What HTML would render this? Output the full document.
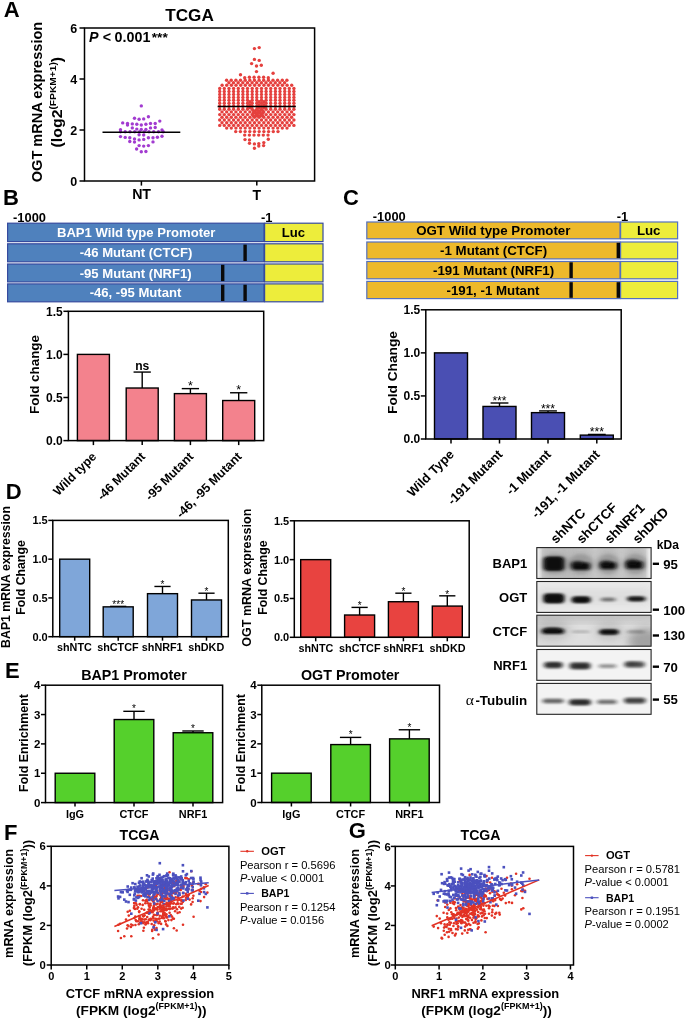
<!DOCTYPE html>
<html><head><meta charset="utf-8"><title>Figure</title>
<style>html,body{margin:0;padding:0;background:#fff}svg{display:block}</style></head>
<body>
<svg width="685" height="1019" viewBox="0 0 685 1019" font-family="Liberation Sans, Arial, sans-serif">
<rect width="685" height="1019" fill="#fff"/>
<defs>
<filter id="b1" x="-30%" y="-60%" width="160%" height="220%"><feGaussianBlur stdDeviation="2.2 1.3"/></filter>
<filter id="b2" x="-30%" y="-60%" width="160%" height="220%"><feGaussianBlur stdDeviation="2.2 1.5"/></filter>
<filter id="b3" x="-30%" y="-30%" width="160%" height="160%"><feGaussianBlur stdDeviation="5"/></filter>
</defs>
<text x="3.70" y="17.20" font-size="22" font-weight="bold" text-anchor="start" fill="#000">A</text>
<text x="3.00" y="205.20" font-size="22" font-weight="bold" text-anchor="start" fill="#000">B</text>
<text x="343.00" y="205.40" font-size="22" font-weight="bold" text-anchor="start" fill="#000">C</text>
<text x="5.70" y="499.40" font-size="22" font-weight="bold" text-anchor="start" fill="#000">D</text>
<text x="5.00" y="677.50" font-size="22" font-weight="bold" text-anchor="start" fill="#000">E</text>
<text x="4.00" y="839.60" font-size="22" font-weight="bold" text-anchor="start" fill="#000">F</text>
<text x="348.80" y="837.80" font-size="22" font-weight="bold" text-anchor="start" fill="#000">G</text>
<text x="189.50" y="20.70" font-size="16" font-weight="bold" text-anchor="middle" fill="#000" textLength="48.5" lengthAdjust="spacingAndGlyphs">TCGA</text>
<g fill="#A23BD0"><circle cx="141.3" cy="105.9" r="1.7"/><circle cx="148.4" cy="116.7" r="1.7"/><circle cx="134.5" cy="118.3" r="1.7"/><circle cx="139.1" cy="119.2" r="1.7"/><circle cx="143.7" cy="118.9" r="1.7"/><circle cx="159.8" cy="121.1" r="1.7"/><circle cx="122.7" cy="122.9" r="1.7"/><circle cx="127.5" cy="123.5" r="1.7"/><circle cx="127.5" cy="125.1" r="1.7"/><circle cx="132.3" cy="123.9" r="1.7"/><circle cx="136.8" cy="124.3" r="1.7"/><circle cx="141.3" cy="125.0" r="1.7"/><circle cx="145.9" cy="124.2" r="1.7"/><circle cx="150.5" cy="123.5" r="1.7"/><circle cx="155.2" cy="123.5" r="1.7"/><circle cx="132.3" cy="127.9" r="1.7"/><circle cx="150.5" cy="127.9" r="1.7"/><circle cx="155.2" cy="127.5" r="1.7"/><circle cx="120.5" cy="129.7" r="1.7"/><circle cx="136.8" cy="129.1" r="1.7"/><circle cx="141.3" cy="129.5" r="1.7"/><circle cx="145.9" cy="129.5" r="1.7"/><circle cx="162.0" cy="130.0" r="1.7"/><circle cx="120.5" cy="136.6" r="1.7"/><circle cx="125.2" cy="137.4" r="1.7"/><circle cx="129.8" cy="137.8" r="1.7"/><circle cx="139.1" cy="134.7" r="1.7"/><circle cx="143.7" cy="135.0" r="1.7"/><circle cx="148.4" cy="137.8" r="1.7"/><circle cx="153.0" cy="137.8" r="1.7"/><circle cx="157.4" cy="137.2" r="1.7"/><circle cx="162.0" cy="136.3" r="1.7"/><circle cx="134.5" cy="139.0" r="1.7"/><circle cx="139.1" cy="139.9" r="1.7"/><circle cx="143.7" cy="139.4" r="1.7"/><circle cx="129.8" cy="141.5" r="1.7"/><circle cx="134.5" cy="142.1" r="1.7"/><circle cx="153.0" cy="141.9" r="1.7"/><circle cx="139.1" cy="145.6" r="1.7"/><circle cx="143.7" cy="146.1" r="1.7"/><circle cx="148.4" cy="145.6" r="1.7"/><circle cx="136.6" cy="149.0" r="1.7"/><circle cx="141.3" cy="151.8" r="1.7"/><circle cx="145.9" cy="151.5" r="1.7"/><circle cx="120.5" cy="131.8" r="1.7"/><circle cx="125.2" cy="131.8" r="1.7"/><circle cx="130.0" cy="131.8" r="1.7"/><circle cx="134.7" cy="131.8" r="1.7"/><circle cx="139.5" cy="131.8" r="1.7"/><circle cx="144.2" cy="131.8" r="1.7"/><circle cx="149.0" cy="131.8" r="1.7"/><circle cx="153.7" cy="131.8" r="1.7"/><circle cx="158.5" cy="131.8" r="1.7"/><circle cx="163.2" cy="131.8" r="1.7"/></g>
<g fill="#E5403E"><circle cx="254.4" cy="48.6" r="1.7"/><circle cx="259.2" cy="47.6" r="1.7"/><circle cx="254.4" cy="59.4" r="1.7"/><circle cx="259.2" cy="60.4" r="1.7"/><circle cx="251.6" cy="63.6" r="1.7"/><circle cx="261.3" cy="65.2" r="1.7"/><circle cx="256.5" cy="66.0" r="1.7"/><circle cx="256.5" cy="71.6" r="1.7"/><circle cx="240.5" cy="74.7" r="1.7"/><circle cx="273.1" cy="73.3" r="1.7"/><circle cx="244.7" cy="77.7" r="1.7"/><circle cx="249.4" cy="77.2" r="1.7"/><circle cx="254.1" cy="77.2" r="1.7"/><circle cx="258.9" cy="77.2" r="1.7"/><circle cx="263.6" cy="77.2" r="1.7"/><circle cx="268.3" cy="77.7" r="1.7"/><circle cx="226.6" cy="80.3" r="1.7"/><circle cx="231.2" cy="80.3" r="1.7"/><circle cx="235.9" cy="80.3" r="1.7"/><circle cx="240.5" cy="80.3" r="1.7"/><circle cx="245.2" cy="80.3" r="1.7"/><circle cx="249.8" cy="80.3" r="1.7"/><circle cx="254.4" cy="80.3" r="1.7"/><circle cx="259.1" cy="80.3" r="1.7"/><circle cx="263.7" cy="80.3" r="1.7"/><circle cx="268.4" cy="80.3" r="1.7"/><circle cx="273.0" cy="80.3" r="1.7"/><circle cx="277.6" cy="80.3" r="1.7"/><circle cx="282.3" cy="80.3" r="1.7"/><circle cx="286.9" cy="80.3" r="1.7"/><circle cx="228.9" cy="82.7" r="1.7"/><circle cx="233.5" cy="82.7" r="1.7"/><circle cx="238.2" cy="82.7" r="1.7"/><circle cx="242.8" cy="82.7" r="1.7"/><circle cx="247.5" cy="82.7" r="1.7"/><circle cx="252.1" cy="82.7" r="1.7"/><circle cx="256.7" cy="82.7" r="1.7"/><circle cx="261.4" cy="82.7" r="1.7"/><circle cx="266.0" cy="82.7" r="1.7"/><circle cx="270.7" cy="82.7" r="1.7"/><circle cx="275.3" cy="82.7" r="1.7"/><circle cx="279.9" cy="82.7" r="1.7"/><circle cx="284.6" cy="82.7" r="1.7"/><circle cx="222.1" cy="85.3" r="1.7"/><circle cx="226.7" cy="85.3" r="1.7"/><circle cx="231.4" cy="85.3" r="1.7"/><circle cx="236.0" cy="85.3" r="1.7"/><circle cx="240.7" cy="85.3" r="1.7"/><circle cx="245.3" cy="85.3" r="1.7"/><circle cx="249.9" cy="85.3" r="1.7"/><circle cx="254.6" cy="85.3" r="1.7"/><circle cx="259.2" cy="85.3" r="1.7"/><circle cx="263.9" cy="85.3" r="1.7"/><circle cx="268.5" cy="85.3" r="1.7"/><circle cx="273.1" cy="85.3" r="1.7"/><circle cx="277.8" cy="85.3" r="1.7"/><circle cx="282.4" cy="85.3" r="1.7"/><circle cx="287.1" cy="85.3" r="1.7"/><circle cx="291.7" cy="85.3" r="1.7"/><circle cx="219.7" cy="88.5" r="1.7"/><circle cx="224.3" cy="88.5" r="1.7"/><circle cx="229.0" cy="88.5" r="1.7"/><circle cx="233.6" cy="88.5" r="1.7"/><circle cx="238.3" cy="88.5" r="1.7"/><circle cx="242.9" cy="88.5" r="1.7"/><circle cx="247.5" cy="88.5" r="1.7"/><circle cx="252.2" cy="88.5" r="1.7"/><circle cx="256.8" cy="88.5" r="1.7"/><circle cx="261.5" cy="88.5" r="1.7"/><circle cx="266.1" cy="88.5" r="1.7"/><circle cx="270.7" cy="88.5" r="1.7"/><circle cx="275.4" cy="88.5" r="1.7"/><circle cx="280.0" cy="88.5" r="1.7"/><circle cx="284.7" cy="88.5" r="1.7"/><circle cx="289.3" cy="88.5" r="1.7"/><circle cx="293.9" cy="88.5" r="1.7"/><circle cx="219.7" cy="91.5" r="1.7"/><circle cx="224.3" cy="91.5" r="1.7"/><circle cx="229.0" cy="91.5" r="1.7"/><circle cx="233.6" cy="91.5" r="1.7"/><circle cx="238.3" cy="91.5" r="1.7"/><circle cx="242.9" cy="91.5" r="1.7"/><circle cx="247.5" cy="91.5" r="1.7"/><circle cx="252.2" cy="91.5" r="1.7"/><circle cx="256.8" cy="91.5" r="1.7"/><circle cx="261.5" cy="91.5" r="1.7"/><circle cx="266.1" cy="91.5" r="1.7"/><circle cx="270.7" cy="91.5" r="1.7"/><circle cx="275.4" cy="91.5" r="1.7"/><circle cx="280.0" cy="91.5" r="1.7"/><circle cx="284.7" cy="91.5" r="1.7"/><circle cx="289.3" cy="91.5" r="1.7"/><circle cx="293.9" cy="91.5" r="1.7"/><circle cx="219.7" cy="94.4" r="1.7"/><circle cx="224.3" cy="94.4" r="1.7"/><circle cx="229.0" cy="94.4" r="1.7"/><circle cx="233.6" cy="94.4" r="1.7"/><circle cx="238.3" cy="94.4" r="1.7"/><circle cx="242.9" cy="94.4" r="1.7"/><circle cx="247.5" cy="94.4" r="1.7"/><circle cx="252.2" cy="94.4" r="1.7"/><circle cx="256.8" cy="94.4" r="1.7"/><circle cx="261.5" cy="94.4" r="1.7"/><circle cx="266.1" cy="94.4" r="1.7"/><circle cx="270.7" cy="94.4" r="1.7"/><circle cx="275.4" cy="94.4" r="1.7"/><circle cx="280.0" cy="94.4" r="1.7"/><circle cx="284.7" cy="94.4" r="1.7"/><circle cx="289.3" cy="94.4" r="1.7"/><circle cx="293.9" cy="94.4" r="1.7"/><circle cx="219.7" cy="97.4" r="1.7"/><circle cx="224.3" cy="97.4" r="1.7"/><circle cx="229.0" cy="97.4" r="1.7"/><circle cx="233.6" cy="97.4" r="1.7"/><circle cx="238.3" cy="97.4" r="1.7"/><circle cx="242.9" cy="97.4" r="1.7"/><circle cx="247.5" cy="97.4" r="1.7"/><circle cx="252.2" cy="97.4" r="1.7"/><circle cx="256.8" cy="97.4" r="1.7"/><circle cx="261.5" cy="97.4" r="1.7"/><circle cx="266.1" cy="97.4" r="1.7"/><circle cx="270.7" cy="97.4" r="1.7"/><circle cx="275.4" cy="97.4" r="1.7"/><circle cx="280.0" cy="97.4" r="1.7"/><circle cx="284.7" cy="97.4" r="1.7"/><circle cx="289.3" cy="97.4" r="1.7"/><circle cx="293.9" cy="97.4" r="1.7"/><circle cx="219.7" cy="100.3" r="1.7"/><circle cx="224.3" cy="100.3" r="1.7"/><circle cx="229.0" cy="100.3" r="1.7"/><circle cx="233.6" cy="100.3" r="1.7"/><circle cx="238.3" cy="100.3" r="1.7"/><circle cx="242.9" cy="100.3" r="1.7"/><circle cx="247.5" cy="100.3" r="1.7"/><circle cx="252.2" cy="100.3" r="1.7"/><circle cx="256.8" cy="100.3" r="1.7"/><circle cx="261.5" cy="100.3" r="1.7"/><circle cx="266.1" cy="100.3" r="1.7"/><circle cx="270.7" cy="100.3" r="1.7"/><circle cx="275.4" cy="100.3" r="1.7"/><circle cx="280.0" cy="100.3" r="1.7"/><circle cx="284.7" cy="100.3" r="1.7"/><circle cx="289.3" cy="100.3" r="1.7"/><circle cx="293.9" cy="100.3" r="1.7"/><circle cx="249.9" cy="101.7" r="1.7"/><circle cx="259.1" cy="101.7" r="1.7"/><circle cx="263.8" cy="101.7" r="1.7"/><circle cx="219.7" cy="103.3" r="1.7"/><circle cx="224.3" cy="103.3" r="1.7"/><circle cx="229.0" cy="103.3" r="1.7"/><circle cx="233.6" cy="103.3" r="1.7"/><circle cx="238.3" cy="103.3" r="1.7"/><circle cx="242.9" cy="103.3" r="1.7"/><circle cx="247.5" cy="103.3" r="1.7"/><circle cx="252.2" cy="103.3" r="1.7"/><circle cx="256.8" cy="103.3" r="1.7"/><circle cx="261.5" cy="103.3" r="1.7"/><circle cx="266.1" cy="103.3" r="1.7"/><circle cx="270.7" cy="103.3" r="1.7"/><circle cx="275.4" cy="103.3" r="1.7"/><circle cx="280.0" cy="103.3" r="1.7"/><circle cx="284.7" cy="103.3" r="1.7"/><circle cx="289.3" cy="103.3" r="1.7"/><circle cx="293.9" cy="103.3" r="1.7"/><circle cx="249.9" cy="104.7" r="1.7"/><circle cx="259.1" cy="104.7" r="1.7"/><circle cx="263.8" cy="104.7" r="1.7"/><circle cx="219.7" cy="106.2" r="1.7"/><circle cx="224.3" cy="106.2" r="1.7"/><circle cx="229.0" cy="106.2" r="1.7"/><circle cx="233.6" cy="106.2" r="1.7"/><circle cx="238.3" cy="106.2" r="1.7"/><circle cx="242.9" cy="106.2" r="1.7"/><circle cx="247.5" cy="106.2" r="1.7"/><circle cx="252.2" cy="106.2" r="1.7"/><circle cx="256.8" cy="106.2" r="1.7"/><circle cx="261.5" cy="106.2" r="1.7"/><circle cx="266.1" cy="106.2" r="1.7"/><circle cx="270.7" cy="106.2" r="1.7"/><circle cx="275.4" cy="106.2" r="1.7"/><circle cx="280.0" cy="106.2" r="1.7"/><circle cx="284.7" cy="106.2" r="1.7"/><circle cx="289.3" cy="106.2" r="1.7"/><circle cx="293.9" cy="106.2" r="1.7"/><circle cx="249.9" cy="107.6" r="1.7"/><circle cx="259.1" cy="107.6" r="1.7"/><circle cx="263.8" cy="107.6" r="1.7"/><circle cx="219.7" cy="109.2" r="1.7"/><circle cx="224.3" cy="109.2" r="1.7"/><circle cx="229.0" cy="109.2" r="1.7"/><circle cx="233.6" cy="109.2" r="1.7"/><circle cx="238.3" cy="109.2" r="1.7"/><circle cx="242.9" cy="109.2" r="1.7"/><circle cx="247.5" cy="109.2" r="1.7"/><circle cx="252.2" cy="109.2" r="1.7"/><circle cx="256.8" cy="109.2" r="1.7"/><circle cx="261.5" cy="109.2" r="1.7"/><circle cx="266.1" cy="109.2" r="1.7"/><circle cx="270.7" cy="109.2" r="1.7"/><circle cx="275.4" cy="109.2" r="1.7"/><circle cx="280.0" cy="109.2" r="1.7"/><circle cx="284.7" cy="109.2" r="1.7"/><circle cx="289.3" cy="109.2" r="1.7"/><circle cx="293.9" cy="109.2" r="1.7"/><circle cx="253.3" cy="110.6" r="1.7"/><circle cx="255.7" cy="110.6" r="1.7"/><circle cx="258.0" cy="110.6" r="1.7"/><circle cx="260.3" cy="110.6" r="1.7"/><circle cx="262.6" cy="110.6" r="1.7"/><circle cx="222.0" cy="111.9" r="1.7"/><circle cx="226.7" cy="111.9" r="1.7"/><circle cx="231.3" cy="111.9" r="1.7"/><circle cx="235.9" cy="111.9" r="1.7"/><circle cx="240.6" cy="111.9" r="1.7"/><circle cx="245.2" cy="111.9" r="1.7"/><circle cx="249.9" cy="111.9" r="1.7"/><circle cx="254.5" cy="111.9" r="1.7"/><circle cx="259.1" cy="111.9" r="1.7"/><circle cx="263.8" cy="111.9" r="1.7"/><circle cx="268.4" cy="111.9" r="1.7"/><circle cx="273.1" cy="111.9" r="1.7"/><circle cx="277.7" cy="111.9" r="1.7"/><circle cx="282.3" cy="111.9" r="1.7"/><circle cx="287.0" cy="111.9" r="1.7"/><circle cx="291.6" cy="111.9" r="1.7"/><circle cx="253.3" cy="113.3" r="1.7"/><circle cx="255.7" cy="113.3" r="1.7"/><circle cx="258.0" cy="113.3" r="1.7"/><circle cx="260.3" cy="113.3" r="1.7"/><circle cx="262.6" cy="113.3" r="1.7"/><circle cx="219.7" cy="114.6" r="1.7"/><circle cx="224.3" cy="114.6" r="1.7"/><circle cx="229.0" cy="114.6" r="1.7"/><circle cx="233.6" cy="114.6" r="1.7"/><circle cx="238.3" cy="114.6" r="1.7"/><circle cx="242.9" cy="114.6" r="1.7"/><circle cx="247.5" cy="114.6" r="1.7"/><circle cx="252.2" cy="114.6" r="1.7"/><circle cx="256.8" cy="114.6" r="1.7"/><circle cx="261.5" cy="114.6" r="1.7"/><circle cx="266.1" cy="114.6" r="1.7"/><circle cx="270.7" cy="114.6" r="1.7"/><circle cx="275.4" cy="114.6" r="1.7"/><circle cx="280.0" cy="114.6" r="1.7"/><circle cx="284.7" cy="114.6" r="1.7"/><circle cx="289.3" cy="114.6" r="1.7"/><circle cx="293.9" cy="114.6" r="1.7"/><circle cx="253.3" cy="116.0" r="1.7"/><circle cx="255.7" cy="116.0" r="1.7"/><circle cx="258.0" cy="116.0" r="1.7"/><circle cx="260.3" cy="116.0" r="1.7"/><circle cx="262.6" cy="116.0" r="1.7"/><circle cx="222.0" cy="117.3" r="1.7"/><circle cx="226.7" cy="117.3" r="1.7"/><circle cx="231.3" cy="117.3" r="1.7"/><circle cx="235.9" cy="117.3" r="1.7"/><circle cx="240.6" cy="117.3" r="1.7"/><circle cx="245.2" cy="117.3" r="1.7"/><circle cx="249.9" cy="117.3" r="1.7"/><circle cx="254.5" cy="117.3" r="1.7"/><circle cx="259.1" cy="117.3" r="1.7"/><circle cx="263.8" cy="117.3" r="1.7"/><circle cx="268.4" cy="117.3" r="1.7"/><circle cx="273.1" cy="117.3" r="1.7"/><circle cx="277.7" cy="117.3" r="1.7"/><circle cx="282.3" cy="117.3" r="1.7"/><circle cx="287.0" cy="117.3" r="1.7"/><circle cx="291.6" cy="117.3" r="1.7"/><circle cx="219.7" cy="120.0" r="1.7"/><circle cx="224.3" cy="120.0" r="1.7"/><circle cx="229.0" cy="120.0" r="1.7"/><circle cx="233.6" cy="120.0" r="1.7"/><circle cx="238.3" cy="120.0" r="1.7"/><circle cx="242.9" cy="120.0" r="1.7"/><circle cx="247.5" cy="120.0" r="1.7"/><circle cx="252.2" cy="120.0" r="1.7"/><circle cx="256.8" cy="120.0" r="1.7"/><circle cx="261.5" cy="120.0" r="1.7"/><circle cx="266.1" cy="120.0" r="1.7"/><circle cx="270.7" cy="120.0" r="1.7"/><circle cx="275.4" cy="120.0" r="1.7"/><circle cx="280.0" cy="120.0" r="1.7"/><circle cx="284.7" cy="120.0" r="1.7"/><circle cx="289.3" cy="120.0" r="1.7"/><circle cx="293.9" cy="120.0" r="1.7"/><circle cx="222.0" cy="122.7" r="1.7"/><circle cx="226.7" cy="122.7" r="1.7"/><circle cx="231.3" cy="122.7" r="1.7"/><circle cx="235.9" cy="122.7" r="1.7"/><circle cx="240.6" cy="122.7" r="1.7"/><circle cx="245.2" cy="122.7" r="1.7"/><circle cx="249.9" cy="122.7" r="1.7"/><circle cx="254.5" cy="122.7" r="1.7"/><circle cx="259.1" cy="122.7" r="1.7"/><circle cx="263.8" cy="122.7" r="1.7"/><circle cx="268.4" cy="122.7" r="1.7"/><circle cx="273.1" cy="122.7" r="1.7"/><circle cx="277.7" cy="122.7" r="1.7"/><circle cx="282.3" cy="122.7" r="1.7"/><circle cx="287.0" cy="122.7" r="1.7"/><circle cx="291.6" cy="122.7" r="1.7"/><circle cx="219.7" cy="125.4" r="1.7"/><circle cx="224.3" cy="125.4" r="1.7"/><circle cx="229.0" cy="125.4" r="1.7"/><circle cx="233.6" cy="125.4" r="1.7"/><circle cx="238.3" cy="125.4" r="1.7"/><circle cx="242.9" cy="125.4" r="1.7"/><circle cx="247.5" cy="125.4" r="1.7"/><circle cx="252.2" cy="125.4" r="1.7"/><circle cx="256.8" cy="125.4" r="1.7"/><circle cx="261.5" cy="125.4" r="1.7"/><circle cx="266.1" cy="125.4" r="1.7"/><circle cx="270.7" cy="125.4" r="1.7"/><circle cx="275.4" cy="125.4" r="1.7"/><circle cx="280.0" cy="125.4" r="1.7"/><circle cx="284.7" cy="125.4" r="1.7"/><circle cx="289.3" cy="125.4" r="1.7"/><circle cx="293.9" cy="125.4" r="1.7"/><circle cx="226.7" cy="128.1" r="1.7"/><circle cx="231.3" cy="128.1" r="1.7"/><circle cx="235.9" cy="128.1" r="1.7"/><circle cx="240.6" cy="128.1" r="1.7"/><circle cx="245.2" cy="128.1" r="1.7"/><circle cx="249.9" cy="128.1" r="1.7"/><circle cx="254.5" cy="128.1" r="1.7"/><circle cx="259.1" cy="128.1" r="1.7"/><circle cx="263.8" cy="128.1" r="1.7"/><circle cx="268.4" cy="128.1" r="1.7"/><circle cx="273.1" cy="128.1" r="1.7"/><circle cx="277.7" cy="128.1" r="1.7"/><circle cx="282.3" cy="128.1" r="1.7"/><circle cx="287.0" cy="128.1" r="1.7"/><circle cx="235.7" cy="131.6" r="1.7"/><circle cx="240.4" cy="131.6" r="1.7"/><circle cx="245.1" cy="131.6" r="1.7"/><circle cx="249.8" cy="131.6" r="1.7"/><circle cx="254.5" cy="131.6" r="1.7"/><circle cx="259.2" cy="131.6" r="1.7"/><circle cx="263.9" cy="131.6" r="1.7"/><circle cx="268.6" cy="131.6" r="1.7"/><circle cx="273.3" cy="131.6" r="1.7"/><circle cx="278.0" cy="131.6" r="1.7"/><circle cx="244.7" cy="135.1" r="1.7"/><circle cx="249.4" cy="135.1" r="1.7"/><circle cx="254.0" cy="135.1" r="1.7"/><circle cx="258.7" cy="135.1" r="1.7"/><circle cx="263.3" cy="135.1" r="1.7"/><circle cx="268.0" cy="135.1" r="1.7"/><circle cx="245.0" cy="139.6" r="1.7"/><circle cx="249.5" cy="139.9" r="1.7"/><circle cx="268.3" cy="139.3" r="1.7"/><circle cx="249.5" cy="143.3" r="1.7"/><circle cx="254.4" cy="143.9" r="1.7"/><circle cx="258.8" cy="143.6" r="1.7"/><circle cx="263.8" cy="142.6" r="1.7"/><circle cx="258.8" cy="146.0" r="1.7"/><circle cx="263.6" cy="145.6" r="1.7"/><circle cx="254.4" cy="148.3" r="1.7"/></g>
<line x1="102.50" y1="132.20" x2="180.30" y2="132.20" stroke="#000" stroke-width="1.5" stroke-linecap="butt"/>
<line x1="217.60" y1="106.40" x2="295.80" y2="106.40" stroke="#000" stroke-width="1.5" stroke-linecap="butt"/>
<rect x="84.50" y="28.00" width="230.10" height="153.00" fill="none" stroke="#000" stroke-width="1.5" />
<line x1="79.50" y1="181.00" x2="84.50" y2="181.00" stroke="#000" stroke-width="1.5" stroke-linecap="butt"/>
<text x="77.10" y="185.60" font-size="12.5" font-weight="bold" text-anchor="end" fill="#000">0</text>
<line x1="79.50" y1="130.00" x2="84.50" y2="130.00" stroke="#000" stroke-width="1.5" stroke-linecap="butt"/>
<text x="77.10" y="134.60" font-size="12.5" font-weight="bold" text-anchor="end" fill="#000">2</text>
<line x1="79.50" y1="79.00" x2="84.50" y2="79.00" stroke="#000" stroke-width="1.5" stroke-linecap="butt"/>
<text x="77.10" y="83.60" font-size="12.5" font-weight="bold" text-anchor="end" fill="#000">4</text>
<line x1="79.50" y1="28.00" x2="84.50" y2="28.00" stroke="#000" stroke-width="1.5" stroke-linecap="butt"/>
<text x="77.10" y="32.60" font-size="12.5" font-weight="bold" text-anchor="end" fill="#000">6</text>
<line x1="141.40" y1="181.00" x2="141.40" y2="185.60" stroke="#000" stroke-width="1.5" stroke-linecap="butt"/>
<line x1="256.80" y1="181.00" x2="256.80" y2="185.60" stroke="#000" stroke-width="1.5" stroke-linecap="butt"/>
<text x="141.60" y="199.20" font-size="14.2" font-weight="bold" text-anchor="middle" fill="#000">NT</text>
<text x="256.80" y="199.80" font-size="14" font-weight="bold" text-anchor="middle" fill="#000">T</text>
<text x="89.00" y="42.30" font-size="14.3" font-weight="bold" text-anchor="start" fill="#000"><tspan font-style="italic">P</tspan><tspan x="102.8">&lt;</tspan><tspan x="114.6">0.001</tspan><tspan x="151.8" font-size="13.7">***</tspan></text>
<text x="42.10" y="102.00" font-size="14.5" font-weight="bold" text-anchor="middle" fill="#000" transform="rotate(-90 42.10 102.00)" textLength="160.5" lengthAdjust="spacingAndGlyphs">OGT mRNA expression</text>
<text x="62.40" y="147.40" font-size="14" font-weight="bold" text-anchor="start" fill="#000" transform="rotate(-90 62.40 147.40)" textLength="90.5" lengthAdjust="spacingAndGlyphs">(log2<tspan font-size="9" dy="-6">(FPKM+1)</tspan><tspan dy="6">)</tspan></text>
<text x="13.00" y="221.80" font-size="12.9" font-weight="bold" text-anchor="start" fill="#000">-1000</text>
<text x="261.00" y="221.60" font-size="12.9" font-weight="bold" text-anchor="start" fill="#000">-1</text>
<rect x="7.60" y="223.20" width="256.40" height="18.40" fill="#4F81BD" stroke="#364A9E" stroke-width="1.2" />
<rect x="264.60" y="223.20" width="58.40" height="18.40" fill="#EDED3B" stroke="#364A9E" stroke-width="1.2" />
<text x="136.20" y="237.00" font-size="13.1" font-weight="bold" text-anchor="middle" fill="#fff">BAP1 Wild type Promoter</text>
<rect x="7.60" y="243.80" width="256.40" height="18.00" fill="#4F81BD" stroke="#364A9E" stroke-width="1.2" />
<rect x="264.60" y="243.80" width="58.40" height="18.00" fill="#EDED3B" stroke="#364A9E" stroke-width="1.2" />
<rect x="243.40" y="244.60" width="3.4" height="16.40" fill="#0a0a0a"/>
<text x="136.00" y="257.40" font-size="13.1" font-weight="bold" text-anchor="middle" fill="#fff">-46 Mutant (CTCF)</text>
<rect x="7.60" y="264.00" width="256.40" height="17.90" fill="#4F81BD" stroke="#364A9E" stroke-width="1.2" />
<rect x="264.60" y="264.00" width="58.40" height="17.90" fill="#EDED3B" stroke="#364A9E" stroke-width="1.2" />
<rect x="221.00" y="264.80" width="3.4" height="16.30" fill="#0a0a0a"/>
<text x="135.70" y="277.55" font-size="13.1" font-weight="bold" text-anchor="middle" fill="#fff">-95 Mutant (NRF1)</text>
<rect x="7.60" y="283.90" width="256.40" height="17.90" fill="#4F81BD" stroke="#364A9E" stroke-width="1.2" />
<rect x="264.60" y="283.90" width="58.40" height="17.90" fill="#EDED3B" stroke="#364A9E" stroke-width="1.2" />
<rect x="221.00" y="284.70" width="3.4" height="16.30" fill="#0a0a0a"/>
<rect x="243.40" y="284.70" width="3.4" height="16.30" fill="#0a0a0a"/>
<text x="135.50" y="297.45" font-size="13.1" font-weight="bold" text-anchor="middle" fill="#fff">-46, -95 Mutant</text>
<text x="293.50" y="237.00" font-size="13.1" font-weight="bold" text-anchor="middle" fill="#000">Luc</text>
<rect x="77.40" y="354.40" width="32.00" height="86.20" fill="#F3828D" stroke="#000" stroke-width="1.4" />
<line x1="142.20" y1="388.02" x2="142.20" y2="372.07" stroke="#000" stroke-width="1.4" stroke-linecap="butt"/>
<line x1="133.56" y1="372.07" x2="150.84" y2="372.07" stroke="#000" stroke-width="1.4" stroke-linecap="butt"/>
<rect x="126.20" y="388.02" width="32.00" height="52.58" fill="#F3828D" stroke="#000" stroke-width="1.4" />
<text x="142.20" y="369.57" font-size="12.1" font-weight="bold" text-anchor="middle" fill="#000">ns</text>
<line x1="190.40" y1="393.62" x2="190.40" y2="388.62" stroke="#000" stroke-width="1.4" stroke-linecap="butt"/>
<line x1="181.76" y1="388.62" x2="199.04" y2="388.62" stroke="#000" stroke-width="1.4" stroke-linecap="butt"/>
<rect x="174.40" y="393.62" width="32.00" height="46.98" fill="#F3828D" stroke="#000" stroke-width="1.4" />
<text x="190.40" y="390.32" font-size="12.5" font-weight="normal" text-anchor="middle" fill="#000">*</text>
<line x1="238.70" y1="400.52" x2="238.70" y2="392.76" stroke="#000" stroke-width="1.4" stroke-linecap="butt"/>
<line x1="230.06" y1="392.76" x2="247.34" y2="392.76" stroke="#000" stroke-width="1.4" stroke-linecap="butt"/>
<rect x="222.70" y="400.52" width="32.00" height="40.08" fill="#F3828D" stroke="#000" stroke-width="1.4" />
<text x="238.70" y="394.46" font-size="12.5" font-weight="normal" text-anchor="middle" fill="#000">*</text>
<rect x="68.40" y="311.30" width="195.30" height="129.30" fill="none" stroke="#000" stroke-width="1.5" />
<line x1="63.40" y1="440.60" x2="68.40" y2="440.60" stroke="#000" stroke-width="1.5" stroke-linecap="butt"/>
<text x="62.80" y="444.92" font-size="12" font-weight="bold" text-anchor="end" fill="#000">0.0</text>
<line x1="63.40" y1="397.50" x2="68.40" y2="397.50" stroke="#000" stroke-width="1.5" stroke-linecap="butt"/>
<text x="62.80" y="401.82" font-size="12" font-weight="bold" text-anchor="end" fill="#000">0.5</text>
<line x1="63.40" y1="354.40" x2="68.40" y2="354.40" stroke="#000" stroke-width="1.5" stroke-linecap="butt"/>
<text x="62.80" y="358.72" font-size="12" font-weight="bold" text-anchor="end" fill="#000">1.0</text>
<line x1="63.40" y1="311.30" x2="68.40" y2="311.30" stroke="#000" stroke-width="1.5" stroke-linecap="butt"/>
<text x="62.80" y="315.62" font-size="12" font-weight="bold" text-anchor="end" fill="#000">1.5</text>
<line x1="93.40" y1="440.60" x2="93.40" y2="445.10" stroke="#000" stroke-width="1.5" stroke-linecap="butt"/>
<line x1="142.20" y1="440.60" x2="142.20" y2="445.10" stroke="#000" stroke-width="1.5" stroke-linecap="butt"/>
<line x1="190.40" y1="440.60" x2="190.40" y2="445.10" stroke="#000" stroke-width="1.5" stroke-linecap="butt"/>
<line x1="238.70" y1="440.60" x2="238.70" y2="445.10" stroke="#000" stroke-width="1.5" stroke-linecap="butt"/>
<text x="38.60" y="374.50" font-size="13.4" font-weight="bold" text-anchor="middle" fill="#000" transform="rotate(-90 38.60 374.50)">Fold change</text>
<text x="97.20" y="457.30" font-size="12.4" font-weight="bold" text-anchor="end" fill="#000" transform="rotate(-45 97.20 457.30)">Wild type</text>
<text x="146.00" y="457.30" font-size="12.4" font-weight="bold" text-anchor="end" fill="#000" transform="rotate(-45 146.00 457.30)">-46 Mutant</text>
<text x="194.20" y="457.30" font-size="12.4" font-weight="bold" text-anchor="end" fill="#000" transform="rotate(-45 194.20 457.30)">-95 Mutant</text>
<text x="242.50" y="457.30" font-size="12.4" font-weight="bold" text-anchor="end" fill="#000" transform="rotate(-45 242.50 457.30)">-46, -95 Mutant</text>
<text x="372.80" y="221.20" font-size="12.9" font-weight="bold" text-anchor="start" fill="#000">-1000</text>
<text x="616.70" y="221.20" font-size="12.9" font-weight="bold" text-anchor="start" fill="#000">-1</text>
<rect x="366.80" y="222.00" width="253.20" height="16.80" fill="#EDB92B" stroke="#5470C0" stroke-width="1.2" />
<rect x="620.60" y="222.00" width="57.00" height="16.80" fill="#EDED3B" stroke="#5470C0" stroke-width="1.2" />
<text x="493.30" y="235.00" font-size="13.3" font-weight="bold" text-anchor="middle" fill="#000">OGT Wild type Promoter</text>
<rect x="366.80" y="242.00" width="253.20" height="16.90" fill="#EDB92B" stroke="#5470C0" stroke-width="1.2" />
<rect x="620.60" y="242.00" width="57.00" height="16.90" fill="#EDED3B" stroke="#5470C0" stroke-width="1.2" />
<rect x="616.60" y="242.80" width="3.4" height="15.30" fill="#0a0a0a"/>
<text x="493.60" y="255.05" font-size="13.3" font-weight="bold" text-anchor="middle" fill="#000">-1 Mutant (CTCF)</text>
<rect x="366.80" y="261.50" width="253.20" height="17.30" fill="#EDB92B" stroke="#5470C0" stroke-width="1.2" />
<rect x="620.60" y="261.50" width="57.00" height="17.30" fill="#EDED3B" stroke="#5470C0" stroke-width="1.2" />
<rect x="569.40" y="262.30" width="3.4" height="15.70" fill="#0a0a0a"/>
<text x="493.60" y="274.75" font-size="13.3" font-weight="bold" text-anchor="middle" fill="#000">-191 Mutant (NRF1)</text>
<rect x="366.80" y="281.40" width="253.20" height="17.20" fill="#EDB92B" stroke="#5470C0" stroke-width="1.2" />
<rect x="620.60" y="281.40" width="57.00" height="17.20" fill="#EDED3B" stroke="#5470C0" stroke-width="1.2" />
<rect x="569.40" y="282.20" width="3.4" height="15.60" fill="#0a0a0a"/>
<rect x="616.60" y="282.20" width="3.4" height="15.60" fill="#0a0a0a"/>
<text x="493.00" y="294.60" font-size="13.3" font-weight="bold" text-anchor="middle" fill="#000">-191, -1 Mutant</text>
<text x="648.70" y="235.00" font-size="13.3" font-weight="bold" text-anchor="middle" fill="#000">Luc</text>
<rect x="434.50" y="352.87" width="33.00" height="86.13" fill="#4A4FB3" stroke="#000" stroke-width="1.4" />
<line x1="499.50" y1="406.44" x2="499.50" y2="403.00" stroke="#000" stroke-width="1.4" stroke-linecap="butt"/>
<line x1="490.59" y1="403.00" x2="508.41" y2="403.00" stroke="#000" stroke-width="1.4" stroke-linecap="butt"/>
<rect x="483.00" y="406.44" width="33.00" height="32.56" fill="#4A4FB3" stroke="#000" stroke-width="1.4" />
<text x="499.50" y="404.70" font-size="12.2" font-weight="normal" text-anchor="middle" fill="#000">***</text>
<line x1="548.00" y1="412.64" x2="548.00" y2="410.92" stroke="#000" stroke-width="1.4" stroke-linecap="butt"/>
<line x1="539.09" y1="410.92" x2="556.91" y2="410.92" stroke="#000" stroke-width="1.4" stroke-linecap="butt"/>
<rect x="531.50" y="412.64" width="33.00" height="26.36" fill="#4A4FB3" stroke="#000" stroke-width="1.4" />
<text x="548.00" y="412.62" font-size="12.2" font-weight="normal" text-anchor="middle" fill="#000">***</text>
<line x1="596.80" y1="435.12" x2="596.80" y2="434.43" stroke="#000" stroke-width="1.4" stroke-linecap="butt"/>
<line x1="587.89" y1="434.43" x2="605.71" y2="434.43" stroke="#000" stroke-width="1.4" stroke-linecap="butt"/>
<rect x="580.30" y="435.12" width="33.00" height="3.88" fill="#4A4FB3" stroke="#000" stroke-width="1.4" />
<text x="596.80" y="436.13" font-size="12.2" font-weight="normal" text-anchor="middle" fill="#000">***</text>
<rect x="425.80" y="309.80" width="195.40" height="129.20" fill="none" stroke="#000" stroke-width="1.5" />
<line x1="420.80" y1="439.00" x2="425.80" y2="439.00" stroke="#000" stroke-width="1.5" stroke-linecap="butt"/>
<text x="420.20" y="443.32" font-size="12" font-weight="bold" text-anchor="end" fill="#000">0.0</text>
<line x1="420.80" y1="395.93" x2="425.80" y2="395.93" stroke="#000" stroke-width="1.5" stroke-linecap="butt"/>
<text x="420.20" y="400.25" font-size="12" font-weight="bold" text-anchor="end" fill="#000">0.5</text>
<line x1="420.80" y1="352.87" x2="425.80" y2="352.87" stroke="#000" stroke-width="1.5" stroke-linecap="butt"/>
<text x="420.20" y="357.19" font-size="12" font-weight="bold" text-anchor="end" fill="#000">1.0</text>
<line x1="420.80" y1="309.80" x2="425.80" y2="309.80" stroke="#000" stroke-width="1.5" stroke-linecap="butt"/>
<text x="420.20" y="314.12" font-size="12" font-weight="bold" text-anchor="end" fill="#000">1.5</text>
<line x1="451.00" y1="439.00" x2="451.00" y2="443.50" stroke="#000" stroke-width="1.5" stroke-linecap="butt"/>
<line x1="499.50" y1="439.00" x2="499.50" y2="443.50" stroke="#000" stroke-width="1.5" stroke-linecap="butt"/>
<line x1="548.00" y1="439.00" x2="548.00" y2="443.50" stroke="#000" stroke-width="1.5" stroke-linecap="butt"/>
<line x1="596.80" y1="439.00" x2="596.80" y2="443.50" stroke="#000" stroke-width="1.5" stroke-linecap="butt"/>
<text x="397.00" y="372.50" font-size="13.7" font-weight="bold" text-anchor="middle" fill="#000" transform="rotate(-90 397.00 372.50)">Fold Change</text>
<text x="454.80" y="455.20" font-size="12.9" font-weight="bold" text-anchor="end" fill="#000" transform="rotate(-45 454.80 455.20)">Wild Type</text>
<text x="503.30" y="455.20" font-size="12.9" font-weight="bold" text-anchor="end" fill="#000" transform="rotate(-45 503.30 455.20)">-191 Mutant</text>
<text x="551.80" y="455.20" font-size="12.9" font-weight="bold" text-anchor="end" fill="#000" transform="rotate(-45 551.80 455.20)">-1 Mutant</text>
<text x="600.60" y="455.20" font-size="12.9" font-weight="bold" text-anchor="end" fill="#000" transform="rotate(-45 600.60 455.20)">-191, -1 Mutant</text>
<rect x="59.70" y="559.17" width="30.00" height="77.53" fill="#7FA6D9" stroke="#000" stroke-width="1.4" />
<line x1="118.20" y1="606.85" x2="118.20" y2="606.38" stroke="#000" stroke-width="1.4" stroke-linecap="butt"/>
<line x1="110.10" y1="606.38" x2="126.30" y2="606.38" stroke="#000" stroke-width="1.4" stroke-linecap="butt"/>
<rect x="103.20" y="606.85" width="30.00" height="29.85" fill="#7FA6D9" stroke="#000" stroke-width="1.4" />
<text x="118.20" y="608.08" font-size="10" font-weight="normal" text-anchor="middle" fill="#000">***</text>
<line x1="162.50" y1="593.67" x2="162.50" y2="586.46" stroke="#000" stroke-width="1.4" stroke-linecap="butt"/>
<line x1="154.40" y1="586.46" x2="170.60" y2="586.46" stroke="#000" stroke-width="1.4" stroke-linecap="butt"/>
<rect x="147.50" y="593.67" width="30.00" height="43.03" fill="#7FA6D9" stroke="#000" stroke-width="1.4" />
<text x="162.50" y="588.16" font-size="10" font-weight="normal" text-anchor="middle" fill="#000">*</text>
<line x1="206.50" y1="599.95" x2="206.50" y2="593.20" stroke="#000" stroke-width="1.4" stroke-linecap="butt"/>
<line x1="198.40" y1="593.20" x2="214.60" y2="593.20" stroke="#000" stroke-width="1.4" stroke-linecap="butt"/>
<rect x="191.50" y="599.95" width="30.00" height="36.75" fill="#7FA6D9" stroke="#000" stroke-width="1.4" />
<text x="206.50" y="594.90" font-size="10" font-weight="normal" text-anchor="middle" fill="#000">*</text>
<rect x="52.80" y="520.40" width="175.50" height="116.30" fill="none" stroke="#000" stroke-width="1.5" />
<line x1="48.30" y1="636.70" x2="52.80" y2="636.70" stroke="#000" stroke-width="1.5" stroke-linecap="butt"/>
<text x="47.70" y="640.66" font-size="11" font-weight="bold" text-anchor="end" fill="#000">0.0</text>
<line x1="48.30" y1="597.93" x2="52.80" y2="597.93" stroke="#000" stroke-width="1.5" stroke-linecap="butt"/>
<text x="47.70" y="601.89" font-size="11" font-weight="bold" text-anchor="end" fill="#000">0.5</text>
<line x1="48.30" y1="559.17" x2="52.80" y2="559.17" stroke="#000" stroke-width="1.5" stroke-linecap="butt"/>
<text x="47.70" y="563.13" font-size="11" font-weight="bold" text-anchor="end" fill="#000">1.0</text>
<line x1="48.30" y1="520.40" x2="52.80" y2="520.40" stroke="#000" stroke-width="1.5" stroke-linecap="butt"/>
<text x="47.70" y="524.36" font-size="11" font-weight="bold" text-anchor="end" fill="#000">1.5</text>
<line x1="74.70" y1="636.70" x2="74.70" y2="640.70" stroke="#000" stroke-width="1.5" stroke-linecap="butt"/>
<line x1="118.20" y1="636.70" x2="118.20" y2="640.70" stroke="#000" stroke-width="1.5" stroke-linecap="butt"/>
<line x1="162.50" y1="636.70" x2="162.50" y2="640.70" stroke="#000" stroke-width="1.5" stroke-linecap="butt"/>
<line x1="206.50" y1="636.70" x2="206.50" y2="640.70" stroke="#000" stroke-width="1.5" stroke-linecap="butt"/>
<text x="10.30" y="577.00" font-size="12.3" font-weight="bold" text-anchor="middle" fill="#000" transform="rotate(-90 10.30 577.00)" textLength="141.8" lengthAdjust="spacingAndGlyphs">BAP1 mRNA expression</text>
<text x="25.20" y="577.50" font-size="12.3" font-weight="bold" text-anchor="middle" fill="#000" transform="rotate(-90 25.20 577.50)">Fold Change</text>
<text x="74.40" y="651.30" font-size="10.8" font-weight="bold" text-anchor="middle" fill="#000">shNTC</text>
<text x="117.90" y="651.30" font-size="10.8" font-weight="bold" text-anchor="middle" fill="#000">shCTCF</text>
<text x="162.20" y="651.30" font-size="10.8" font-weight="bold" text-anchor="middle" fill="#000">shNRF1</text>
<text x="206.20" y="651.30" font-size="10.8" font-weight="bold" text-anchor="middle" fill="#000">shDKD</text>
<rect x="300.70" y="559.63" width="30.00" height="77.67" fill="#E84340" stroke="#000" stroke-width="1.4" />
<line x1="359.60" y1="615.01" x2="359.60" y2="607.40" stroke="#000" stroke-width="1.4" stroke-linecap="butt"/>
<line x1="351.50" y1="607.40" x2="367.70" y2="607.40" stroke="#000" stroke-width="1.4" stroke-linecap="butt"/>
<rect x="344.60" y="615.01" width="30.00" height="22.29" fill="#E84340" stroke="#000" stroke-width="1.4" />
<text x="359.60" y="609.10" font-size="10" font-weight="normal" text-anchor="middle" fill="#000">*</text>
<line x1="403.40" y1="601.73" x2="403.40" y2="593.19" stroke="#000" stroke-width="1.4" stroke-linecap="butt"/>
<line x1="395.30" y1="593.19" x2="411.50" y2="593.19" stroke="#000" stroke-width="1.4" stroke-linecap="butt"/>
<rect x="388.40" y="601.73" width="30.00" height="35.57" fill="#E84340" stroke="#000" stroke-width="1.4" />
<text x="403.40" y="594.89" font-size="10" font-weight="normal" text-anchor="middle" fill="#000">*</text>
<line x1="447.30" y1="606.08" x2="447.30" y2="595.83" stroke="#000" stroke-width="1.4" stroke-linecap="butt"/>
<line x1="439.20" y1="595.83" x2="455.40" y2="595.83" stroke="#000" stroke-width="1.4" stroke-linecap="butt"/>
<rect x="432.30" y="606.08" width="30.00" height="31.22" fill="#E84340" stroke="#000" stroke-width="1.4" />
<text x="447.30" y="597.53" font-size="10" font-weight="normal" text-anchor="middle" fill="#000">*</text>
<rect x="294.30" y="520.80" width="174.90" height="116.50" fill="none" stroke="#000" stroke-width="1.5" />
<line x1="289.80" y1="637.30" x2="294.30" y2="637.30" stroke="#000" stroke-width="1.5" stroke-linecap="butt"/>
<text x="289.20" y="641.26" font-size="11" font-weight="bold" text-anchor="end" fill="#000">0.0</text>
<line x1="289.80" y1="598.47" x2="294.30" y2="598.47" stroke="#000" stroke-width="1.5" stroke-linecap="butt"/>
<text x="289.20" y="602.43" font-size="11" font-weight="bold" text-anchor="end" fill="#000">0.5</text>
<line x1="289.80" y1="559.63" x2="294.30" y2="559.63" stroke="#000" stroke-width="1.5" stroke-linecap="butt"/>
<text x="289.20" y="563.59" font-size="11" font-weight="bold" text-anchor="end" fill="#000">1.0</text>
<line x1="289.80" y1="520.80" x2="294.30" y2="520.80" stroke="#000" stroke-width="1.5" stroke-linecap="butt"/>
<text x="289.20" y="524.76" font-size="11" font-weight="bold" text-anchor="end" fill="#000">1.5</text>
<line x1="315.70" y1="637.30" x2="315.70" y2="641.30" stroke="#000" stroke-width="1.5" stroke-linecap="butt"/>
<line x1="359.60" y1="637.30" x2="359.60" y2="641.30" stroke="#000" stroke-width="1.5" stroke-linecap="butt"/>
<line x1="403.40" y1="637.30" x2="403.40" y2="641.30" stroke="#000" stroke-width="1.5" stroke-linecap="butt"/>
<line x1="447.30" y1="637.30" x2="447.30" y2="641.30" stroke="#000" stroke-width="1.5" stroke-linecap="butt"/>
<text x="251.20" y="577.70" font-size="12.5" font-weight="bold" text-anchor="middle" fill="#000" transform="rotate(-90 251.20 577.70)" textLength="138.0" lengthAdjust="spacingAndGlyphs">OGT mRNA expression</text>
<text x="267.20" y="577.50" font-size="12.3" font-weight="bold" text-anchor="middle" fill="#000" transform="rotate(-90 267.20 577.50)">Fold Change</text>
<text x="315.90" y="652.20" font-size="10.8" font-weight="bold" text-anchor="middle" fill="#000">shNTC</text>
<text x="359.80" y="652.20" font-size="10.8" font-weight="bold" text-anchor="middle" fill="#000">shCTCF</text>
<text x="403.60" y="652.20" font-size="10.8" font-weight="bold" text-anchor="middle" fill="#000">shNRF1</text>
<text x="447.50" y="652.20" font-size="10.8" font-weight="bold" text-anchor="middle" fill="#000">shDKD</text>
<clipPath id="cp0"><rect x="536.8" y="547.6" width="114.30" height="30.90"/></clipPath>
<g clip-path="url(#cp0)">
<rect x="536.8" y="547.6" width="114.30" height="30.90" fill="#e6e6e6"/>
<rect x="539.6" y="543.6" width="30" height="40" fill="#8c8c8c" opacity="0.5" filter="url(#b3)"/>
<ellipse cx="554.6" cy="564" rx="15" ry="10" fill="#777" opacity="0.45" filter="url(#b2)"/>
<rect x="568.0" y="543.6" width="26" height="40" fill="#8c8c8c" opacity="0.5" filter="url(#b3)"/>
<ellipse cx="581" cy="564" rx="13" ry="10" fill="#777" opacity="0.45" filter="url(#b2)"/>
<rect x="596.2" y="543.6" width="24" height="40" fill="#8c8c8c" opacity="0.5" filter="url(#b3)"/>
<ellipse cx="608.2" cy="564" rx="12" ry="10" fill="#777" opacity="0.45" filter="url(#b2)"/>
<rect x="622.8" y="543.6" width="25.0" height="40" fill="#8c8c8c" opacity="0.5" filter="url(#b3)"/>
<ellipse cx="635.3" cy="564" rx="12.5" ry="10" fill="#777" opacity="0.45" filter="url(#b2)"/>
<rect x="534.8" y="547.6" width="5" height="31" fill="#fff" opacity="0.8" filter="url(#b2)"/>
<rect x="648.1" y="547.6" width="5" height="31" fill="#fff" opacity="0.8" filter="url(#b2)"/>
<rect x="544.3" y="556.8" width="19.1" height="13.8" rx="3.2" fill="#0a0a0a" opacity="1.0" filter="url(#b1)"/>
<rect x="546" y="558" width="16.0" height="11.5" rx="3.2" fill="#0a0a0a" opacity="1.0" filter="url(#b1)"/>
<rect x="571.5" y="562.6" width="18.5" height="7.4" rx="3.2" fill="#0a0a0a" opacity="1.0" filter="url(#b1)"/>
<rect x="572" y="560.8" width="11.0" height="5.2" rx="3.2" fill="#0a0a0a" opacity="0.6" filter="url(#b1)"/>
<rect x="599.9" y="562" width="16.5" height="7.2" rx="3.2" fill="#0a0a0a" opacity="1.0" filter="url(#b1)"/>
<rect x="601" y="560.2" width="10.0" height="5.8" rx="3.2" fill="#0a0a0a" opacity="0.6" filter="url(#b1)"/>
<rect x="625.8" y="561" width="17.2" height="8.0" rx="3.2" fill="#0a0a0a" opacity="1.0" filter="url(#b1)"/>
<rect x="627" y="559" width="11.0" height="6.0" rx="3.2" fill="#0a0a0a" opacity="0.6" filter="url(#b1)"/>
</g>
<rect x="536.80" y="547.60" width="114.30" height="30.90" fill="none" stroke="#222" stroke-width="1.1" />
<clipPath id="cp1"><rect x="536.8" y="581.5" width="114.30" height="30.90"/></clipPath>
<g clip-path="url(#cp1)">
<rect x="536.8" y="581.5" width="114.30" height="30.90" fill="#ececec"/>
<rect x="536.8" y="587.5" width="114.3" height="18" fill="#cfcfcf" opacity="0.5" filter="url(#b3)"/>
<rect x="543.6" y="593.6" width="20.4" height="9.6" rx="3.2" fill="#0a0a0a" opacity="1.0" filter="url(#b1)"/>
<rect x="546" y="595" width="16.0" height="7.0" rx="3.2" fill="#0a0a0a" opacity="0.9" filter="url(#b1)"/>
<rect x="571.8" y="596.6" width="18.7" height="6.4" rx="3.2" fill="#0a0a0a" opacity="1.0" filter="url(#b1)"/>
<rect x="574" y="597.5" width="14.0" height="4.7" rx="3.2" fill="#0a0a0a" opacity="0.6" filter="url(#b1)"/>
<rect x="600.8" y="597.8" width="14.8" height="3.4" rx="3.2" fill="#0a0a0a" opacity="0.55" filter="url(#b1)"/>
<rect x="627.3" y="596.4" width="18.1" height="4.8" rx="3.2" fill="#0a0a0a" opacity="0.95" filter="url(#b1)"/>
<rect x="630" y="597" width="12.0" height="3.6" rx="3.2" fill="#0a0a0a" opacity="0.4" filter="url(#b1)"/>
</g>
<rect x="536.80" y="581.50" width="114.30" height="30.90" fill="none" stroke="#222" stroke-width="1.1" />
<clipPath id="cp2"><rect x="536.8" y="615.2" width="114.30" height="31.00"/></clipPath>
<g clip-path="url(#cp2)">
<rect x="536.8" y="615.2" width="114.30" height="31.00" fill="#dedede"/>
<rect x="531.8" y="609.2" width="124.3" height="12" fill="#999" opacity="0.45" filter="url(#b3)"/>
<ellipse cx="646" cy="641" rx="18" ry="13" fill="#7a7a7a" opacity="0.6" filter="url(#b3)"/>
<ellipse cx="552" cy="630" rx="18" ry="10" fill="#999" opacity="0.45" filter="url(#b3)"/>
<ellipse cx="609" cy="631" rx="14" ry="9" fill="#999" opacity="0.4" filter="url(#b3)"/>
<rect x="541.8" y="628.6" width="22.4" height="5.4" rx="3.2" fill="#0a0a0a" opacity="1.0" filter="url(#b1)"/>
<rect x="545" y="627.6" width="15.0" height="4.4" rx="3.2" fill="#0a0a0a" opacity="0.7" filter="url(#b1)"/>
<rect x="572" y="630.8" width="17.5" height="2.0" rx="3.2" fill="#0a0a0a" opacity="0.27" filter="url(#b1)"/>
<rect x="599.3" y="629.6" width="19.3" height="5.0" rx="3.2" fill="#0a0a0a" opacity="1.0" filter="url(#b1)"/>
<rect x="602" y="630" width="14.0" height="4.0" rx="3.2" fill="#0a0a0a" opacity="0.6" filter="url(#b1)"/>
<rect x="627" y="630.4" width="17.6" height="2.6" rx="3.2" fill="#0a0a0a" opacity="0.33" filter="url(#b1)"/>
</g>
<rect x="536.80" y="615.20" width="114.30" height="31.00" fill="none" stroke="#222" stroke-width="1.1" />
<clipPath id="cp3"><rect x="536.8" y="649.5" width="114.30" height="30.80"/></clipPath>
<g clip-path="url(#cp3)">
<rect x="536.8" y="649.5" width="114.30" height="30.80" fill="#f3f3f3"/>
<rect x="544" y="662" width="18.6" height="6.2" rx="3.2" fill="#0a0a0a" opacity="0.8" filter="url(#b1)"/>
<rect x="548" y="662.6" width="12.0" height="3.8" rx="3.2" fill="#0a0a0a" opacity="0.3" filter="url(#b1)"/>
<rect x="569.6" y="662.6" width="20.8" height="6.6" rx="3.2" fill="#0a0a0a" opacity="0.8" filter="url(#b1)"/>
<rect x="574" y="664" width="14.0" height="4.4" rx="3.2" fill="#0a0a0a" opacity="0.3" filter="url(#b1)"/>
<rect x="598.6" y="664.2" width="17.8" height="3.8" rx="3.2" fill="#0a0a0a" opacity="0.42" filter="url(#b1)"/>
<rect x="624.4" y="661.6" width="20.2" height="5.8" rx="3.2" fill="#0a0a0a" opacity="0.7" filter="url(#b1)"/>
<rect x="627" y="661.8" width="10.0" height="3.6" rx="3.2" fill="#0a0a0a" opacity="0.3" filter="url(#b1)"/>
</g>
<rect x="536.80" y="649.50" width="114.30" height="30.80" fill="none" stroke="#222" stroke-width="1.1" />
<clipPath id="cp4"><rect x="536.8" y="683.4" width="114.30" height="30.90"/></clipPath>
<g clip-path="url(#cp4)">
<rect x="536.8" y="683.4" width="114.30" height="30.90" fill="#f3f3f3"/>
<rect x="542.6" y="698.8" width="21.0" height="4.4" rx="3.2" fill="#0a0a0a" opacity="0.62" filter="url(#b1)"/>
<rect x="569" y="699.2" width="21.8" height="6.0" rx="3.2" fill="#0a0a0a" opacity="0.82" filter="url(#b1)"/>
<rect x="573" y="700.4" width="15.0" height="4.2" rx="3.2" fill="#0a0a0a" opacity="0.3" filter="url(#b1)"/>
<rect x="597.2" y="699.8" width="19.6" height="4.2" rx="3.2" fill="#0a0a0a" opacity="0.56" filter="url(#b1)"/>
<rect x="624.2" y="697.8" width="21.4" height="5.6" rx="3.2" fill="#0a0a0a" opacity="0.76" filter="url(#b1)"/>
</g>
<rect x="536.80" y="683.40" width="114.30" height="30.90" fill="none" stroke="#222" stroke-width="1.1" />
<text x="527.20" y="567.95" font-size="13" font-weight="bold" text-anchor="end" fill="#000">BAP1</text>
<text x="527.20" y="601.95" font-size="13" font-weight="bold" text-anchor="end" fill="#000">OGT</text>
<text x="527.20" y="635.70" font-size="13" font-weight="bold" text-anchor="end" fill="#000">CTCF</text>
<text x="527.20" y="670.20" font-size="13" font-weight="bold" text-anchor="end" fill="#000">NRF1</text>
<text x="527.20" y="704.60" font-size="13.4" font-weight="bold" text-anchor="end" fill="#000">-Tubulin</text>
<text x="465.7" y="704.6" font-size="15.6" font-family="Liberation Serif, serif" fill="#000">α</text>
<line x1="652.80" y1="563.80" x2="659.00" y2="563.80" stroke="#000" stroke-width="2.4" stroke-linecap="butt"/>
<text x="663.20" y="568.60" font-size="13.2" font-weight="bold" text-anchor="start" fill="#000">95</text>
<line x1="652.80" y1="609.70" x2="659.00" y2="609.70" stroke="#000" stroke-width="2.4" stroke-linecap="butt"/>
<text x="663.20" y="614.50" font-size="13.2" font-weight="bold" text-anchor="start" fill="#000">100</text>
<line x1="652.80" y1="635.50" x2="659.00" y2="635.50" stroke="#000" stroke-width="2.4" stroke-linecap="butt"/>
<text x="663.20" y="640.30" font-size="13.2" font-weight="bold" text-anchor="start" fill="#000">130</text>
<line x1="652.80" y1="666.70" x2="659.00" y2="666.70" stroke="#000" stroke-width="2.4" stroke-linecap="butt"/>
<text x="663.20" y="671.50" font-size="13.2" font-weight="bold" text-anchor="start" fill="#000">70</text>
<line x1="652.80" y1="699.60" x2="659.00" y2="699.60" stroke="#000" stroke-width="2.4" stroke-linecap="butt"/>
<text x="663.20" y="704.40" font-size="13.2" font-weight="bold" text-anchor="start" fill="#000">55</text>
<text x="656.80" y="548.80" font-size="12" font-weight="bold" text-anchor="start" fill="#000">kDa</text>
<text x="556.00" y="544.30" font-size="13.3" font-weight="bold" text-anchor="start" fill="#000" transform="rotate(-45 556.00 544.30)">shNTC</text>
<text x="582.00" y="544.30" font-size="13.3" font-weight="bold" text-anchor="start" fill="#000" transform="rotate(-45 582.00 544.30)">shCTCF</text>
<text x="610.00" y="544.30" font-size="13.3" font-weight="bold" text-anchor="start" fill="#000" transform="rotate(-45 610.00 544.30)">shNRF1</text>
<text x="638.00" y="544.30" font-size="13.3" font-weight="bold" text-anchor="start" fill="#000" transform="rotate(-45 638.00 544.30)">shDKD</text>
<rect x="55.20" y="773.25" width="39.60" height="29.35" fill="#55D02C" stroke="#000" stroke-width="1.4" />
<line x1="134.00" y1="719.54" x2="134.00" y2="711.32" stroke="#000" stroke-width="1.4" stroke-linecap="butt"/>
<line x1="123.31" y1="711.32" x2="144.69" y2="711.32" stroke="#000" stroke-width="1.4" stroke-linecap="butt"/>
<rect x="114.20" y="719.54" width="39.60" height="83.06" fill="#55D02C" stroke="#000" stroke-width="1.4" />
<text x="134.00" y="712.32" font-size="10" font-weight="normal" text-anchor="middle" fill="#000">*</text>
<line x1="193.00" y1="732.75" x2="193.00" y2="730.99" stroke="#000" stroke-width="1.4" stroke-linecap="butt"/>
<line x1="182.31" y1="730.99" x2="203.69" y2="730.99" stroke="#000" stroke-width="1.4" stroke-linecap="butt"/>
<rect x="173.20" y="732.75" width="39.60" height="69.85" fill="#55D02C" stroke="#000" stroke-width="1.4" />
<text x="193.00" y="731.99" font-size="10" font-weight="normal" text-anchor="middle" fill="#000">*</text>
<rect x="45.50" y="685.20" width="177.10" height="117.40" fill="none" stroke="#000" stroke-width="1.5" />
<line x1="41.00" y1="802.60" x2="45.50" y2="802.60" stroke="#000" stroke-width="1.5" stroke-linecap="butt"/>
<text x="40.40" y="806.74" font-size="11.5" font-weight="bold" text-anchor="end" fill="#000">0</text>
<line x1="41.00" y1="773.25" x2="45.50" y2="773.25" stroke="#000" stroke-width="1.5" stroke-linecap="butt"/>
<text x="40.40" y="777.39" font-size="11.5" font-weight="bold" text-anchor="end" fill="#000">1</text>
<line x1="41.00" y1="743.90" x2="45.50" y2="743.90" stroke="#000" stroke-width="1.5" stroke-linecap="butt"/>
<text x="40.40" y="748.04" font-size="11.5" font-weight="bold" text-anchor="end" fill="#000">2</text>
<line x1="41.00" y1="714.55" x2="45.50" y2="714.55" stroke="#000" stroke-width="1.5" stroke-linecap="butt"/>
<text x="40.40" y="718.69" font-size="11.5" font-weight="bold" text-anchor="end" fill="#000">3</text>
<line x1="41.00" y1="685.20" x2="45.50" y2="685.20" stroke="#000" stroke-width="1.5" stroke-linecap="butt"/>
<text x="40.40" y="689.34" font-size="11.5" font-weight="bold" text-anchor="end" fill="#000">4</text>
<line x1="75.00" y1="802.60" x2="75.00" y2="806.60" stroke="#000" stroke-width="1.5" stroke-linecap="butt"/>
<line x1="134.00" y1="802.60" x2="134.00" y2="806.60" stroke="#000" stroke-width="1.5" stroke-linecap="butt"/>
<line x1="193.00" y1="802.60" x2="193.00" y2="806.60" stroke="#000" stroke-width="1.5" stroke-linecap="butt"/>
<text x="134.00" y="679.60" font-size="14.3" font-weight="bold" text-anchor="middle" fill="#000">BAP1 Promoter</text>
<text x="27.80" y="743.00" font-size="12.4" font-weight="bold" text-anchor="middle" fill="#000" transform="rotate(-90 27.80 743.00)">Fold Enrichment</text>
<text x="75.00" y="817.70" font-size="10.9" font-weight="bold" text-anchor="middle" fill="#000">IgG</text>
<text x="134.00" y="817.70" font-size="10.9" font-weight="bold" text-anchor="middle" fill="#000">CTCF</text>
<text x="193.00" y="817.70" font-size="10.9" font-weight="bold" text-anchor="middle" fill="#000">NRF1</text>
<rect x="271.60" y="773.17" width="39.60" height="29.33" fill="#55D02C" stroke="#000" stroke-width="1.4" />
<line x1="350.60" y1="744.58" x2="350.60" y2="737.40" stroke="#000" stroke-width="1.4" stroke-linecap="butt"/>
<line x1="339.91" y1="737.40" x2="361.29" y2="737.40" stroke="#000" stroke-width="1.4" stroke-linecap="butt"/>
<rect x="330.80" y="744.58" width="39.60" height="57.92" fill="#55D02C" stroke="#000" stroke-width="1.4" />
<text x="350.60" y="738.40" font-size="10" font-weight="normal" text-anchor="middle" fill="#000">*</text>
<line x1="409.40" y1="738.86" x2="409.40" y2="729.77" stroke="#000" stroke-width="1.4" stroke-linecap="butt"/>
<line x1="398.71" y1="729.77" x2="420.09" y2="729.77" stroke="#000" stroke-width="1.4" stroke-linecap="butt"/>
<rect x="389.60" y="738.86" width="39.60" height="63.64" fill="#55D02C" stroke="#000" stroke-width="1.4" />
<text x="409.40" y="730.77" font-size="10" font-weight="normal" text-anchor="middle" fill="#000">*</text>
<rect x="261.80" y="685.20" width="177.70" height="117.30" fill="none" stroke="#000" stroke-width="1.5" />
<line x1="257.30" y1="802.50" x2="261.80" y2="802.50" stroke="#000" stroke-width="1.5" stroke-linecap="butt"/>
<text x="256.70" y="806.64" font-size="11.5" font-weight="bold" text-anchor="end" fill="#000">0</text>
<line x1="257.30" y1="773.17" x2="261.80" y2="773.17" stroke="#000" stroke-width="1.5" stroke-linecap="butt"/>
<text x="256.70" y="777.31" font-size="11.5" font-weight="bold" text-anchor="end" fill="#000">1</text>
<line x1="257.30" y1="743.85" x2="261.80" y2="743.85" stroke="#000" stroke-width="1.5" stroke-linecap="butt"/>
<text x="256.70" y="747.99" font-size="11.5" font-weight="bold" text-anchor="end" fill="#000">2</text>
<line x1="257.30" y1="714.53" x2="261.80" y2="714.53" stroke="#000" stroke-width="1.5" stroke-linecap="butt"/>
<text x="256.70" y="718.67" font-size="11.5" font-weight="bold" text-anchor="end" fill="#000">3</text>
<line x1="257.30" y1="685.20" x2="261.80" y2="685.20" stroke="#000" stroke-width="1.5" stroke-linecap="butt"/>
<text x="256.70" y="689.34" font-size="11.5" font-weight="bold" text-anchor="end" fill="#000">4</text>
<line x1="291.40" y1="802.50" x2="291.40" y2="806.50" stroke="#000" stroke-width="1.5" stroke-linecap="butt"/>
<line x1="350.60" y1="802.50" x2="350.60" y2="806.50" stroke="#000" stroke-width="1.5" stroke-linecap="butt"/>
<line x1="409.40" y1="802.50" x2="409.40" y2="806.50" stroke="#000" stroke-width="1.5" stroke-linecap="butt"/>
<text x="350.20" y="679.80" font-size="14.3" font-weight="bold" text-anchor="middle" fill="#000">OGT Promoter</text>
<text x="244.60" y="743.00" font-size="12.4" font-weight="bold" text-anchor="middle" fill="#000" transform="rotate(-90 244.60 743.00)">Fold Enrichment</text>
<text x="291.40" y="817.70" font-size="10.9" font-weight="bold" text-anchor="middle" fill="#000">IgG</text>
<text x="350.60" y="817.70" font-size="10.9" font-weight="bold" text-anchor="middle" fill="#000">CTCF</text>
<text x="409.40" y="817.70" font-size="10.9" font-weight="bold" text-anchor="middle" fill="#000">NRF1</text>
<g fill="#E23224"><circle cx="131.3" cy="936.3" r="1.3"/><circle cx="149.5" cy="919.6" r="1.3"/><circle cx="153.6" cy="897.8" r="1.3"/><circle cx="156.6" cy="895.9" r="1.3"/><circle cx="163.1" cy="909.2" r="1.3"/><circle cx="155.3" cy="908.5" r="1.3"/><circle cx="169.4" cy="899.3" r="1.3"/><circle cx="141.0" cy="896.0" r="1.3"/><circle cx="207.4" cy="892.6" r="1.3"/><circle cx="156.8" cy="919.0" r="1.3"/><circle cx="178.7" cy="889.4" r="1.3"/><circle cx="163.0" cy="914.9" r="1.3"/><circle cx="161.6" cy="907.3" r="1.3"/><circle cx="164.9" cy="888.1" r="1.3"/><circle cx="170.8" cy="903.3" r="1.3"/><circle cx="147.0" cy="912.7" r="1.3"/><circle cx="153.2" cy="908.4" r="1.3"/><circle cx="148.0" cy="923.3" r="1.3"/><circle cx="163.4" cy="903.7" r="1.3"/><circle cx="162.9" cy="900.5" r="1.3"/><circle cx="173.0" cy="918.6" r="1.3"/><circle cx="118.1" cy="931.0" r="1.3"/><circle cx="177.5" cy="903.4" r="1.3"/><circle cx="165.5" cy="899.0" r="1.3"/><circle cx="161.0" cy="898.2" r="1.3"/><circle cx="168.8" cy="904.5" r="1.3"/><circle cx="144.4" cy="890.9" r="1.3"/><circle cx="143.4" cy="930.7" r="1.3"/><circle cx="143.2" cy="916.2" r="1.3"/><circle cx="161.5" cy="897.3" r="1.3"/><circle cx="167.9" cy="903.9" r="1.3"/><circle cx="181.7" cy="903.8" r="1.3"/><circle cx="177.7" cy="900.6" r="1.3"/><circle cx="160.5" cy="906.7" r="1.3"/><circle cx="153.9" cy="910.4" r="1.3"/><circle cx="152.7" cy="900.7" r="1.3"/><circle cx="166.1" cy="924.4" r="1.3"/><circle cx="173.3" cy="899.0" r="1.3"/><circle cx="140.9" cy="919.8" r="1.3"/><circle cx="139.4" cy="918.5" r="1.3"/><circle cx="178.6" cy="880.7" r="1.3"/><circle cx="171.2" cy="891.3" r="1.3"/><circle cx="160.7" cy="899.2" r="1.3"/><circle cx="153.0" cy="938.2" r="1.3"/><circle cx="171.9" cy="896.2" r="1.3"/><circle cx="152.2" cy="929.9" r="1.3"/><circle cx="156.1" cy="920.5" r="1.3"/><circle cx="127.0" cy="928.5" r="1.3"/><circle cx="171.8" cy="882.7" r="1.3"/><circle cx="167.4" cy="925.9" r="1.3"/><circle cx="154.7" cy="896.7" r="1.3"/><circle cx="174.3" cy="882.6" r="1.3"/><circle cx="151.6" cy="899.2" r="1.3"/><circle cx="183.3" cy="893.0" r="1.3"/><circle cx="157.7" cy="894.2" r="1.3"/><circle cx="140.1" cy="922.6" r="1.3"/><circle cx="152.4" cy="911.5" r="1.3"/><circle cx="171.6" cy="897.0" r="1.3"/><circle cx="159.8" cy="915.8" r="1.3"/><circle cx="169.9" cy="904.3" r="1.3"/><circle cx="144.2" cy="909.8" r="1.3"/><circle cx="160.4" cy="911.3" r="1.3"/><circle cx="156.1" cy="896.7" r="1.3"/><circle cx="173.1" cy="903.6" r="1.3"/><circle cx="145.7" cy="924.0" r="1.3"/><circle cx="166.5" cy="906.3" r="1.3"/><circle cx="163.9" cy="910.3" r="1.3"/><circle cx="169.6" cy="912.8" r="1.3"/><circle cx="164.7" cy="897.1" r="1.3"/><circle cx="170.5" cy="881.2" r="1.3"/><circle cx="185.8" cy="900.0" r="1.3"/><circle cx="139.7" cy="917.1" r="1.3"/><circle cx="143.2" cy="916.0" r="1.3"/><circle cx="164.0" cy="918.2" r="1.3"/><circle cx="166.2" cy="891.7" r="1.3"/><circle cx="170.9" cy="901.0" r="1.3"/><circle cx="160.7" cy="892.0" r="1.3"/><circle cx="159.9" cy="908.7" r="1.3"/><circle cx="139.0" cy="916.0" r="1.3"/><circle cx="139.1" cy="895.8" r="1.3"/><circle cx="151.0" cy="912.1" r="1.3"/><circle cx="149.7" cy="907.4" r="1.3"/><circle cx="149.3" cy="896.5" r="1.3"/><circle cx="168.5" cy="906.1" r="1.3"/><circle cx="133.9" cy="907.9" r="1.3"/><circle cx="147.5" cy="922.0" r="1.3"/><circle cx="174.0" cy="903.2" r="1.3"/><circle cx="132.6" cy="925.2" r="1.3"/><circle cx="127.7" cy="911.7" r="1.3"/><circle cx="176.3" cy="904.2" r="1.3"/><circle cx="164.5" cy="912.7" r="1.3"/><circle cx="154.3" cy="903.8" r="1.3"/><circle cx="148.3" cy="894.6" r="1.3"/><circle cx="151.7" cy="924.0" r="1.3"/><circle cx="141.7" cy="890.9" r="1.3"/><circle cx="165.6" cy="921.5" r="1.3"/><circle cx="173.4" cy="908.2" r="1.3"/><circle cx="162.2" cy="916.6" r="1.3"/><circle cx="176.3" cy="881.1" r="1.3"/><circle cx="188.4" cy="889.1" r="1.3"/><circle cx="171.2" cy="898.6" r="1.3"/><circle cx="153.4" cy="895.7" r="1.3"/><circle cx="138.0" cy="907.2" r="1.3"/><circle cx="187.7" cy="896.6" r="1.3"/><circle cx="135.4" cy="925.0" r="1.3"/><circle cx="173.9" cy="918.7" r="1.3"/><circle cx="134.3" cy="905.9" r="1.3"/><circle cx="166.2" cy="908.5" r="1.3"/><circle cx="187.8" cy="897.4" r="1.3"/><circle cx="157.8" cy="907.0" r="1.3"/><circle cx="159.8" cy="900.5" r="1.3"/><circle cx="171.1" cy="893.8" r="1.3"/><circle cx="149.0" cy="903.7" r="1.3"/><circle cx="165.9" cy="881.2" r="1.3"/><circle cx="153.7" cy="898.5" r="1.3"/><circle cx="163.0" cy="918.0" r="1.3"/><circle cx="167.1" cy="897.8" r="1.3"/><circle cx="162.1" cy="917.9" r="1.3"/><circle cx="158.7" cy="923.3" r="1.3"/><circle cx="187.8" cy="889.8" r="1.3"/><circle cx="165.5" cy="914.8" r="1.3"/><circle cx="180.5" cy="903.7" r="1.3"/><circle cx="167.2" cy="893.5" r="1.3"/><circle cx="146.9" cy="901.3" r="1.3"/><circle cx="120.1" cy="923.7" r="1.3"/><circle cx="166.4" cy="914.3" r="1.3"/><circle cx="176.7" cy="930.5" r="1.3"/><circle cx="139.2" cy="912.1" r="1.3"/><circle cx="165.3" cy="921.0" r="1.3"/><circle cx="148.9" cy="913.7" r="1.3"/><circle cx="179.5" cy="899.8" r="1.3"/><circle cx="161.9" cy="911.3" r="1.3"/><circle cx="135.1" cy="909.0" r="1.3"/><circle cx="201.0" cy="892.0" r="1.3"/><circle cx="142.3" cy="919.4" r="1.3"/><circle cx="177.0" cy="909.3" r="1.3"/><circle cx="134.8" cy="908.7" r="1.3"/><circle cx="139.2" cy="911.2" r="1.3"/><circle cx="166.0" cy="909.5" r="1.3"/><circle cx="182.7" cy="901.3" r="1.3"/><circle cx="126.0" cy="919.6" r="1.3"/><circle cx="193.6" cy="916.7" r="1.3"/><circle cx="164.5" cy="915.2" r="1.3"/><circle cx="139.5" cy="919.4" r="1.3"/><circle cx="157.7" cy="914.4" r="1.3"/><circle cx="166.2" cy="904.3" r="1.3"/><circle cx="163.3" cy="913.3" r="1.3"/><circle cx="171.4" cy="920.1" r="1.3"/><circle cx="163.2" cy="907.4" r="1.3"/><circle cx="153.8" cy="905.9" r="1.3"/><circle cx="156.9" cy="915.0" r="1.3"/><circle cx="134.5" cy="903.2" r="1.3"/><circle cx="163.0" cy="911.2" r="1.3"/><circle cx="149.8" cy="910.1" r="1.3"/><circle cx="160.8" cy="902.2" r="1.3"/><circle cx="134.3" cy="918.0" r="1.3"/><circle cx="157.5" cy="893.1" r="1.3"/><circle cx="141.2" cy="918.8" r="1.3"/><circle cx="204.1" cy="897.1" r="1.3"/><circle cx="183.5" cy="886.8" r="1.3"/><circle cx="131.2" cy="924.5" r="1.3"/><circle cx="166.7" cy="909.8" r="1.3"/><circle cx="178.2" cy="897.6" r="1.3"/><circle cx="198.3" cy="883.9" r="1.3"/><circle cx="167.9" cy="904.6" r="1.3"/><circle cx="167.1" cy="892.0" r="1.3"/><circle cx="144.0" cy="922.3" r="1.3"/><circle cx="177.6" cy="912.9" r="1.3"/><circle cx="168.5" cy="908.8" r="1.3"/><circle cx="185.9" cy="897.8" r="1.3"/><circle cx="156.2" cy="883.7" r="1.3"/><circle cx="137.5" cy="895.9" r="1.3"/><circle cx="187.2" cy="896.0" r="1.3"/><circle cx="157.6" cy="912.8" r="1.3"/><circle cx="169.8" cy="906.2" r="1.3"/><circle cx="200.6" cy="884.7" r="1.3"/><circle cx="179.3" cy="906.9" r="1.3"/><circle cx="164.5" cy="898.3" r="1.3"/><circle cx="182.8" cy="902.0" r="1.3"/><circle cx="156.5" cy="928.0" r="1.3"/><circle cx="155.3" cy="918.8" r="1.3"/><circle cx="150.6" cy="905.5" r="1.3"/><circle cx="160.7" cy="893.5" r="1.3"/><circle cx="148.6" cy="909.5" r="1.3"/><circle cx="166.7" cy="902.7" r="1.3"/><circle cx="166.5" cy="889.8" r="1.3"/><circle cx="169.5" cy="872.2" r="1.3"/><circle cx="134.1" cy="903.0" r="1.3"/><circle cx="156.2" cy="915.0" r="1.3"/><circle cx="170.3" cy="908.5" r="1.3"/><circle cx="154.5" cy="893.5" r="1.3"/><circle cx="188.7" cy="895.1" r="1.3"/><circle cx="191.1" cy="904.4" r="1.3"/><circle cx="161.1" cy="923.9" r="1.3"/><circle cx="159.8" cy="918.5" r="1.3"/><circle cx="150.5" cy="903.7" r="1.3"/><circle cx="118.5" cy="924.8" r="1.3"/><circle cx="173.2" cy="907.4" r="1.3"/><circle cx="160.3" cy="905.6" r="1.3"/><circle cx="158.9" cy="918.8" r="1.3"/><circle cx="193.1" cy="882.6" r="1.3"/><circle cx="141.6" cy="908.8" r="1.3"/><circle cx="162.2" cy="893.7" r="1.3"/><circle cx="144.6" cy="915.2" r="1.3"/><circle cx="167.5" cy="888.9" r="1.3"/><circle cx="164.3" cy="913.3" r="1.3"/><circle cx="143.0" cy="900.3" r="1.3"/><circle cx="159.7" cy="890.6" r="1.3"/><circle cx="169.1" cy="898.9" r="1.3"/><circle cx="173.7" cy="883.1" r="1.3"/><circle cx="170.9" cy="879.3" r="1.3"/><circle cx="162.5" cy="916.4" r="1.3"/><circle cx="148.8" cy="919.7" r="1.3"/><circle cx="143.9" cy="927.8" r="1.3"/><circle cx="169.6" cy="894.3" r="1.3"/><circle cx="175.5" cy="907.4" r="1.3"/><circle cx="153.9" cy="927.7" r="1.3"/><circle cx="148.6" cy="912.0" r="1.3"/><circle cx="166.6" cy="917.3" r="1.3"/><circle cx="191.3" cy="871.2" r="1.3"/><circle cx="171.0" cy="902.9" r="1.3"/><circle cx="191.9" cy="885.6" r="1.3"/><circle cx="146.0" cy="922.6" r="1.3"/><circle cx="120.9" cy="938.0" r="1.3"/><circle cx="162.6" cy="899.9" r="1.3"/><circle cx="181.3" cy="886.0" r="1.3"/><circle cx="138.8" cy="924.3" r="1.3"/><circle cx="200.5" cy="901.1" r="1.3"/><circle cx="164.0" cy="907.2" r="1.3"/><circle cx="137.3" cy="908.8" r="1.3"/><circle cx="189.6" cy="899.6" r="1.3"/><circle cx="166.9" cy="886.6" r="1.3"/><circle cx="148.9" cy="905.8" r="1.3"/><circle cx="177.4" cy="884.3" r="1.3"/><circle cx="181.2" cy="908.6" r="1.3"/><circle cx="154.2" cy="925.3" r="1.3"/><circle cx="145.5" cy="924.5" r="1.3"/><circle cx="153.9" cy="914.9" r="1.3"/><circle cx="135.9" cy="903.3" r="1.3"/><circle cx="128.8" cy="915.6" r="1.3"/><circle cx="205.8" cy="884.2" r="1.3"/><circle cx="170.8" cy="915.0" r="1.3"/><circle cx="157.6" cy="903.7" r="1.3"/><circle cx="164.0" cy="908.2" r="1.3"/><circle cx="170.2" cy="900.3" r="1.3"/><circle cx="178.1" cy="903.8" r="1.3"/><circle cx="124.3" cy="936.2" r="1.3"/><circle cx="159.5" cy="906.6" r="1.3"/><circle cx="129.8" cy="910.7" r="1.3"/><circle cx="141.6" cy="921.9" r="1.3"/><circle cx="161.6" cy="901.2" r="1.3"/><circle cx="155.9" cy="885.9" r="1.3"/><circle cx="152.9" cy="899.7" r="1.3"/><circle cx="162.9" cy="889.2" r="1.3"/><circle cx="193.4" cy="895.8" r="1.3"/><circle cx="173.7" cy="892.9" r="1.3"/><circle cx="150.3" cy="920.3" r="1.3"/><circle cx="153.6" cy="907.2" r="1.3"/><circle cx="150.6" cy="918.9" r="1.3"/><circle cx="155.9" cy="909.2" r="1.3"/><circle cx="172.0" cy="916.6" r="1.3"/><circle cx="162.3" cy="901.7" r="1.3"/><circle cx="161.8" cy="909.2" r="1.3"/><circle cx="135.3" cy="916.5" r="1.3"/><circle cx="192.7" cy="898.2" r="1.3"/><circle cx="173.9" cy="928.3" r="1.3"/><circle cx="153.0" cy="916.8" r="1.3"/><circle cx="166.4" cy="895.6" r="1.3"/><circle cx="201.2" cy="888.7" r="1.3"/><circle cx="181.3" cy="900.7" r="1.3"/><circle cx="176.3" cy="890.1" r="1.3"/><circle cx="174.5" cy="878.1" r="1.3"/><circle cx="177.9" cy="889.7" r="1.3"/><circle cx="167.0" cy="899.3" r="1.3"/><circle cx="153.6" cy="920.5" r="1.3"/><circle cx="147.7" cy="922.0" r="1.3"/><circle cx="139.8" cy="904.1" r="1.3"/><circle cx="173.3" cy="898.4" r="1.3"/><circle cx="154.6" cy="908.6" r="1.3"/><circle cx="180.8" cy="889.9" r="1.3"/><circle cx="145.8" cy="919.2" r="1.3"/><circle cx="158.5" cy="934.5" r="1.3"/><circle cx="182.8" cy="896.6" r="1.3"/><circle cx="145.4" cy="900.7" r="1.3"/><circle cx="143.7" cy="916.1" r="1.3"/><circle cx="192.7" cy="889.9" r="1.3"/><circle cx="156.5" cy="899.4" r="1.3"/><circle cx="171.9" cy="880.1" r="1.3"/><circle cx="165.6" cy="916.0" r="1.3"/><circle cx="175.6" cy="892.8" r="1.3"/><circle cx="172.0" cy="881.1" r="1.3"/><circle cx="153.3" cy="917.9" r="1.3"/><circle cx="145.3" cy="903.3" r="1.3"/><circle cx="151.7" cy="899.6" r="1.3"/><circle cx="162.7" cy="885.0" r="1.3"/><circle cx="171.1" cy="894.4" r="1.3"/><circle cx="156.6" cy="908.8" r="1.3"/><circle cx="128.5" cy="926.1" r="1.3"/><circle cx="144.3" cy="919.6" r="1.3"/><circle cx="160.1" cy="904.3" r="1.3"/><circle cx="187.2" cy="897.4" r="1.3"/><circle cx="174.0" cy="886.3" r="1.3"/><circle cx="160.5" cy="895.4" r="1.3"/><circle cx="192.6" cy="902.0" r="1.3"/><circle cx="154.2" cy="886.9" r="1.3"/><circle cx="165.4" cy="892.3" r="1.3"/><circle cx="157.3" cy="921.5" r="1.3"/><circle cx="139.9" cy="904.3" r="1.3"/><circle cx="163.4" cy="892.3" r="1.3"/><circle cx="183.3" cy="885.2" r="1.3"/><circle cx="165.9" cy="909.2" r="1.3"/><circle cx="153.8" cy="902.6" r="1.3"/><circle cx="182.9" cy="893.0" r="1.3"/><circle cx="169.7" cy="909.1" r="1.3"/><circle cx="186.9" cy="878.2" r="1.3"/><circle cx="177.9" cy="896.7" r="1.3"/><circle cx="176.4" cy="892.9" r="1.3"/><circle cx="149.8" cy="910.1" r="1.3"/><circle cx="156.1" cy="891.9" r="1.3"/><circle cx="173.1" cy="898.4" r="1.3"/><circle cx="182.7" cy="907.7" r="1.3"/><circle cx="154.8" cy="921.9" r="1.3"/><circle cx="152.1" cy="930.9" r="1.3"/><circle cx="172.2" cy="908.6" r="1.3"/><circle cx="138.0" cy="921.3" r="1.3"/><circle cx="151.5" cy="919.1" r="1.3"/><circle cx="147.7" cy="887.6" r="1.3"/><circle cx="157.8" cy="912.6" r="1.3"/><circle cx="163.7" cy="913.4" r="1.3"/><circle cx="164.3" cy="908.3" r="1.3"/><circle cx="127.6" cy="925.3" r="1.3"/><circle cx="146.1" cy="900.9" r="1.3"/><circle cx="199.5" cy="890.8" r="1.3"/><circle cx="179.6" cy="912.2" r="1.3"/><circle cx="181.6" cy="899.9" r="1.3"/><circle cx="188.9" cy="879.3" r="1.3"/><circle cx="156.1" cy="904.4" r="1.3"/><circle cx="152.5" cy="912.3" r="1.3"/><circle cx="161.7" cy="897.8" r="1.3"/><circle cx="186.0" cy="893.9" r="1.3"/><circle cx="162.7" cy="910.5" r="1.3"/><circle cx="147.2" cy="917.0" r="1.3"/><circle cx="148.6" cy="893.3" r="1.3"/><circle cx="146.7" cy="912.7" r="1.3"/><circle cx="147.7" cy="903.3" r="1.3"/><circle cx="130.9" cy="927.0" r="1.3"/><circle cx="135.7" cy="920.1" r="1.3"/><circle cx="138.3" cy="889.5" r="1.3"/><circle cx="155.0" cy="929.8" r="1.3"/><circle cx="136.6" cy="905.0" r="1.3"/><circle cx="175.6" cy="897.4" r="1.3"/><circle cx="203.9" cy="887.4" r="1.3"/><circle cx="166.1" cy="915.6" r="1.3"/><circle cx="169.7" cy="890.5" r="1.3"/><circle cx="166.3" cy="910.1" r="1.3"/><circle cx="160.4" cy="900.6" r="1.3"/><circle cx="146.7" cy="899.8" r="1.3"/><circle cx="141.7" cy="921.9" r="1.3"/><circle cx="143.2" cy="923.1" r="1.3"/><circle cx="175.1" cy="911.3" r="1.3"/><circle cx="168.4" cy="920.1" r="1.3"/><circle cx="167.1" cy="917.4" r="1.3"/><circle cx="157.5" cy="909.6" r="1.3"/><circle cx="142.7" cy="904.9" r="1.3"/><circle cx="159.7" cy="921.6" r="1.3"/><circle cx="183.0" cy="924.8" r="1.3"/><circle cx="136.4" cy="921.2" r="1.3"/><circle cx="153.6" cy="900.7" r="1.3"/><circle cx="185.3" cy="878.1" r="1.3"/></g>
<g fill="#4B50BE"><rect x="130.0" y="912.4" width="2.6" height="2.6"/><rect x="148.2" y="911.7" width="2.6" height="2.6"/><rect x="152.3" y="925.9" width="2.6" height="2.6"/><rect x="155.3" y="928.6" width="2.6" height="2.6"/><rect x="161.8" y="927.8" width="2.6" height="2.6"/><rect x="154.0" y="921.0" width="2.6" height="2.6"/><rect x="168.1" y="915.0" width="2.6" height="2.6"/><rect x="139.7" y="921.9" width="2.6" height="2.6"/><rect x="206.1" y="906.1" width="2.6" height="2.6"/><rect x="155.5" y="890.0" width="2.6" height="2.6"/><rect x="177.4" y="876.1" width="2.6" height="2.6"/><rect x="161.7" y="885.1" width="2.6" height="2.6"/><rect x="160.3" y="893.7" width="2.6" height="2.6"/><rect x="163.6" y="882.7" width="2.6" height="2.6"/><rect x="169.5" y="886.6" width="2.6" height="2.6"/><rect x="145.7" y="874.0" width="2.6" height="2.6"/><rect x="151.9" y="872.2" width="2.6" height="2.6"/><rect x="146.7" y="880.2" width="2.6" height="2.6"/><rect x="162.1" y="894.6" width="2.6" height="2.6"/><rect x="161.6" y="890.1" width="2.6" height="2.6"/><rect x="171.7" y="883.8" width="2.6" height="2.6"/><rect x="116.8" y="895.2" width="2.6" height="2.6"/><rect x="176.2" y="881.0" width="2.6" height="2.6"/><rect x="164.2" y="880.7" width="2.6" height="2.6"/><rect x="159.7" y="880.0" width="2.6" height="2.6"/><rect x="167.5" y="883.9" width="2.6" height="2.6"/><rect x="143.1" y="894.3" width="2.6" height="2.6"/><rect x="142.1" y="894.1" width="2.6" height="2.6"/><rect x="141.9" y="888.7" width="2.6" height="2.6"/><rect x="160.2" y="876.3" width="2.6" height="2.6"/><rect x="166.6" y="873.9" width="2.6" height="2.6"/><rect x="180.4" y="877.2" width="2.6" height="2.6"/><rect x="176.4" y="882.2" width="2.6" height="2.6"/><rect x="159.2" y="881.2" width="2.6" height="2.6"/><rect x="152.6" y="880.7" width="2.6" height="2.6"/><rect x="151.4" y="877.3" width="2.6" height="2.6"/><rect x="164.8" y="879.4" width="2.6" height="2.6"/><rect x="172.0" y="896.8" width="2.6" height="2.6"/><rect x="139.6" y="880.8" width="2.6" height="2.6"/><rect x="138.1" y="885.2" width="2.6" height="2.6"/><rect x="177.3" y="888.3" width="2.6" height="2.6"/><rect x="169.9" y="881.5" width="2.6" height="2.6"/><rect x="159.4" y="884.1" width="2.6" height="2.6"/><rect x="151.7" y="887.4" width="2.6" height="2.6"/><rect x="170.6" y="898.1" width="2.6" height="2.6"/><rect x="150.9" y="886.2" width="2.6" height="2.6"/><rect x="154.8" y="882.5" width="2.6" height="2.6"/><rect x="125.7" y="889.5" width="2.6" height="2.6"/><rect x="170.5" y="897.3" width="2.6" height="2.6"/><rect x="166.1" y="882.3" width="2.6" height="2.6"/><rect x="153.4" y="881.4" width="2.6" height="2.6"/><rect x="173.0" y="883.8" width="2.6" height="2.6"/><rect x="150.3" y="883.9" width="2.6" height="2.6"/><rect x="182.0" y="887.1" width="2.6" height="2.6"/><rect x="156.4" y="891.5" width="2.6" height="2.6"/><rect x="138.8" y="884.1" width="2.6" height="2.6"/><rect x="151.1" y="889.7" width="2.6" height="2.6"/><rect x="170.3" y="884.0" width="2.6" height="2.6"/><rect x="158.5" y="861.9" width="2.6" height="2.6"/><rect x="168.6" y="880.2" width="2.6" height="2.6"/><rect x="142.9" y="886.7" width="2.6" height="2.6"/><rect x="159.1" y="898.5" width="2.6" height="2.6"/><rect x="154.8" y="886.0" width="2.6" height="2.6"/><rect x="171.8" y="879.6" width="2.6" height="2.6"/><rect x="144.4" y="892.9" width="2.6" height="2.6"/><rect x="165.2" y="887.6" width="2.6" height="2.6"/><rect x="162.6" y="903.0" width="2.6" height="2.6"/><rect x="168.3" y="881.4" width="2.6" height="2.6"/><rect x="163.4" y="890.4" width="2.6" height="2.6"/><rect x="169.2" y="880.3" width="2.6" height="2.6"/><rect x="184.5" y="874.0" width="2.6" height="2.6"/><rect x="138.4" y="889.3" width="2.6" height="2.6"/><rect x="141.9" y="880.4" width="2.6" height="2.6"/><rect x="162.7" y="884.1" width="2.6" height="2.6"/><rect x="164.9" y="887.4" width="2.6" height="2.6"/><rect x="169.6" y="887.6" width="2.6" height="2.6"/><rect x="159.4" y="892.7" width="2.6" height="2.6"/><rect x="158.6" y="876.7" width="2.6" height="2.6"/><rect x="137.7" y="881.5" width="2.6" height="2.6"/><rect x="137.8" y="895.7" width="2.6" height="2.6"/><rect x="149.7" y="880.8" width="2.6" height="2.6"/><rect x="148.4" y="892.7" width="2.6" height="2.6"/><rect x="148.0" y="898.6" width="2.6" height="2.6"/><rect x="167.2" y="876.6" width="2.6" height="2.6"/><rect x="132.6" y="898.2" width="2.6" height="2.6"/><rect x="146.2" y="878.5" width="2.6" height="2.6"/><rect x="172.7" y="883.7" width="2.6" height="2.6"/><rect x="131.3" y="881.9" width="2.6" height="2.6"/><rect x="126.4" y="885.2" width="2.6" height="2.6"/><rect x="175.0" y="876.3" width="2.6" height="2.6"/><rect x="163.2" y="883.4" width="2.6" height="2.6"/><rect x="153.0" y="882.5" width="2.6" height="2.6"/><rect x="147.0" y="885.5" width="2.6" height="2.6"/><rect x="150.4" y="878.8" width="2.6" height="2.6"/><rect x="140.4" y="890.8" width="2.6" height="2.6"/><rect x="164.3" y="878.3" width="2.6" height="2.6"/><rect x="172.1" y="873.9" width="2.6" height="2.6"/><rect x="160.9" y="886.7" width="2.6" height="2.6"/><rect x="175.0" y="881.7" width="2.6" height="2.6"/><rect x="187.1" y="887.9" width="2.6" height="2.6"/><rect x="169.9" y="887.6" width="2.6" height="2.6"/><rect x="152.1" y="885.0" width="2.6" height="2.6"/><rect x="136.7" y="890.8" width="2.6" height="2.6"/><rect x="186.4" y="890.7" width="2.6" height="2.6"/><rect x="134.1" y="888.6" width="2.6" height="2.6"/><rect x="172.6" y="883.8" width="2.6" height="2.6"/><rect x="133.0" y="886.1" width="2.6" height="2.6"/><rect x="164.9" y="880.5" width="2.6" height="2.6"/><rect x="186.5" y="897.4" width="2.6" height="2.6"/><rect x="156.5" y="875.9" width="2.6" height="2.6"/><rect x="158.5" y="887.7" width="2.6" height="2.6"/><rect x="169.8" y="891.2" width="2.6" height="2.6"/><rect x="147.7" y="890.1" width="2.6" height="2.6"/><rect x="164.6" y="882.5" width="2.6" height="2.6"/><rect x="152.4" y="880.3" width="2.6" height="2.6"/><rect x="161.7" y="888.9" width="2.6" height="2.6"/><rect x="165.8" y="884.6" width="2.6" height="2.6"/><rect x="160.8" y="898.2" width="2.6" height="2.6"/><rect x="157.4" y="885.2" width="2.6" height="2.6"/><rect x="186.5" y="884.9" width="2.6" height="2.6"/><rect x="164.2" y="889.1" width="2.6" height="2.6"/><rect x="179.2" y="878.0" width="2.6" height="2.6"/><rect x="165.9" y="872.3" width="2.6" height="2.6"/><rect x="145.6" y="879.7" width="2.6" height="2.6"/><rect x="118.8" y="895.6" width="2.6" height="2.6"/><rect x="165.1" y="874.3" width="2.6" height="2.6"/><rect x="175.4" y="887.5" width="2.6" height="2.6"/><rect x="137.9" y="888.4" width="2.6" height="2.6"/><rect x="164.0" y="890.3" width="2.6" height="2.6"/><rect x="147.6" y="883.9" width="2.6" height="2.6"/><rect x="178.2" y="880.6" width="2.6" height="2.6"/><rect x="160.6" y="885.1" width="2.6" height="2.6"/><rect x="133.8" y="890.0" width="2.6" height="2.6"/><rect x="199.7" y="884.0" width="2.6" height="2.6"/><rect x="141.0" y="890.9" width="2.6" height="2.6"/><rect x="175.7" y="877.6" width="2.6" height="2.6"/><rect x="133.5" y="892.4" width="2.6" height="2.6"/><rect x="137.9" y="889.2" width="2.6" height="2.6"/><rect x="121.4" y="891.0" width="2.6" height="2.6"/><rect x="164.7" y="891.5" width="2.6" height="2.6"/><rect x="181.4" y="886.2" width="2.6" height="2.6"/><rect x="124.7" y="900.2" width="2.6" height="2.6"/><rect x="192.3" y="880.5" width="2.6" height="2.6"/><rect x="163.2" y="881.9" width="2.6" height="2.6"/><rect x="138.2" y="890.3" width="2.6" height="2.6"/><rect x="156.4" y="874.9" width="2.6" height="2.6"/><rect x="164.9" y="892.0" width="2.6" height="2.6"/><rect x="162.0" y="881.9" width="2.6" height="2.6"/><rect x="143.7" y="884.0" width="2.6" height="2.6"/><rect x="170.1" y="889.4" width="2.6" height="2.6"/><rect x="161.9" y="887.9" width="2.6" height="2.6"/><rect x="152.5" y="880.2" width="2.6" height="2.6"/><rect x="155.6" y="886.2" width="2.6" height="2.6"/><rect x="133.2" y="886.4" width="2.6" height="2.6"/><rect x="161.7" y="875.6" width="2.6" height="2.6"/><rect x="148.5" y="885.6" width="2.6" height="2.6"/><rect x="159.5" y="898.8" width="2.6" height="2.6"/><rect x="133.0" y="894.0" width="2.6" height="2.6"/><rect x="156.2" y="880.3" width="2.6" height="2.6"/><rect x="139.9" y="888.9" width="2.6" height="2.6"/><rect x="202.8" y="890.8" width="2.6" height="2.6"/><rect x="182.2" y="899.2" width="2.6" height="2.6"/><rect x="129.9" y="886.3" width="2.6" height="2.6"/><rect x="165.4" y="874.6" width="2.6" height="2.6"/><rect x="176.9" y="894.2" width="2.6" height="2.6"/><rect x="197.0" y="899.4" width="2.6" height="2.6"/><rect x="166.6" y="882.0" width="2.6" height="2.6"/><rect x="165.8" y="889.8" width="2.6" height="2.6"/><rect x="142.7" y="889.9" width="2.6" height="2.6"/><rect x="176.3" y="887.3" width="2.6" height="2.6"/><rect x="167.2" y="892.4" width="2.6" height="2.6"/><rect x="184.6" y="880.9" width="2.6" height="2.6"/><rect x="154.9" y="879.8" width="2.6" height="2.6"/><rect x="136.2" y="885.5" width="2.6" height="2.6"/><rect x="185.9" y="888.3" width="2.6" height="2.6"/><rect x="156.3" y="878.8" width="2.6" height="2.6"/><rect x="168.5" y="886.4" width="2.6" height="2.6"/><rect x="199.3" y="878.6" width="2.6" height="2.6"/><rect x="178.0" y="891.7" width="2.6" height="2.6"/><rect x="163.2" y="881.1" width="2.6" height="2.6"/><rect x="181.5" y="878.9" width="2.6" height="2.6"/><rect x="155.2" y="877.0" width="2.6" height="2.6"/><rect x="154.0" y="886.5" width="2.6" height="2.6"/><rect x="149.3" y="883.8" width="2.6" height="2.6"/><rect x="159.4" y="890.6" width="2.6" height="2.6"/><rect x="147.3" y="880.7" width="2.6" height="2.6"/><rect x="165.4" y="880.0" width="2.6" height="2.6"/><rect x="165.2" y="877.7" width="2.6" height="2.6"/><rect x="168.2" y="888.4" width="2.6" height="2.6"/><rect x="132.8" y="897.6" width="2.6" height="2.6"/><rect x="154.9" y="887.2" width="2.6" height="2.6"/><rect x="169.0" y="887.1" width="2.6" height="2.6"/><rect x="153.2" y="892.4" width="2.6" height="2.6"/><rect x="187.4" y="879.5" width="2.6" height="2.6"/><rect x="189.8" y="876.7" width="2.6" height="2.6"/><rect x="159.8" y="883.3" width="2.6" height="2.6"/><rect x="158.5" y="878.1" width="2.6" height="2.6"/><rect x="149.2" y="884.2" width="2.6" height="2.6"/><rect x="117.2" y="897.1" width="2.6" height="2.6"/><rect x="171.9" y="889.6" width="2.6" height="2.6"/><rect x="159.0" y="889.0" width="2.6" height="2.6"/><rect x="157.6" y="881.3" width="2.6" height="2.6"/><rect x="191.8" y="876.7" width="2.6" height="2.6"/><rect x="140.3" y="886.9" width="2.6" height="2.6"/><rect x="160.9" y="878.6" width="2.6" height="2.6"/><rect x="143.3" y="893.8" width="2.6" height="2.6"/><rect x="166.2" y="886.6" width="2.6" height="2.6"/><rect x="163.0" y="874.9" width="2.6" height="2.6"/><rect x="141.7" y="884.5" width="2.6" height="2.6"/><rect x="158.4" y="878.6" width="2.6" height="2.6"/><rect x="167.8" y="899.6" width="2.6" height="2.6"/><rect x="172.4" y="897.6" width="2.6" height="2.6"/><rect x="169.6" y="891.9" width="2.6" height="2.6"/><rect x="161.2" y="878.7" width="2.6" height="2.6"/><rect x="147.5" y="875.2" width="2.6" height="2.6"/><rect x="142.6" y="892.3" width="2.6" height="2.6"/><rect x="168.3" y="892.9" width="2.6" height="2.6"/><rect x="174.2" y="892.6" width="2.6" height="2.6"/><rect x="152.6" y="893.5" width="2.6" height="2.6"/><rect x="147.3" y="883.2" width="2.6" height="2.6"/><rect x="165.3" y="888.1" width="2.6" height="2.6"/><rect x="190.0" y="869.8" width="2.6" height="2.6"/><rect x="169.7" y="880.1" width="2.6" height="2.6"/><rect x="190.6" y="888.8" width="2.6" height="2.6"/><rect x="144.7" y="885.8" width="2.6" height="2.6"/><rect x="119.6" y="890.8" width="2.6" height="2.6"/><rect x="161.3" y="880.3" width="2.6" height="2.6"/><rect x="180.0" y="877.8" width="2.6" height="2.6"/><rect x="137.5" y="890.7" width="2.6" height="2.6"/><rect x="199.2" y="876.4" width="2.6" height="2.6"/><rect x="162.7" y="881.8" width="2.6" height="2.6"/><rect x="136.0" y="888.9" width="2.6" height="2.6"/><rect x="188.3" y="882.0" width="2.6" height="2.6"/><rect x="165.6" y="880.7" width="2.6" height="2.6"/><rect x="147.6" y="889.6" width="2.6" height="2.6"/><rect x="176.1" y="889.9" width="2.6" height="2.6"/><rect x="179.9" y="875.2" width="2.6" height="2.6"/><rect x="152.9" y="886.8" width="2.6" height="2.6"/><rect x="144.2" y="891.9" width="2.6" height="2.6"/><rect x="152.6" y="883.4" width="2.6" height="2.6"/><rect x="134.6" y="899.3" width="2.6" height="2.6"/><rect x="127.5" y="888.5" width="2.6" height="2.6"/><rect x="204.5" y="892.6" width="2.6" height="2.6"/><rect x="169.5" y="888.6" width="2.6" height="2.6"/><rect x="156.3" y="899.7" width="2.6" height="2.6"/><rect x="162.7" y="891.3" width="2.6" height="2.6"/><rect x="168.9" y="878.9" width="2.6" height="2.6"/><rect x="176.8" y="886.2" width="2.6" height="2.6"/><rect x="123.0" y="898.3" width="2.6" height="2.6"/><rect x="158.2" y="873.5" width="2.6" height="2.6"/><rect x="128.5" y="893.5" width="2.6" height="2.6"/><rect x="140.3" y="876.9" width="2.6" height="2.6"/><rect x="160.3" y="890.1" width="2.6" height="2.6"/><rect x="154.6" y="897.5" width="2.6" height="2.6"/><rect x="151.6" y="873.3" width="2.6" height="2.6"/><rect x="161.6" y="889.3" width="2.6" height="2.6"/><rect x="192.1" y="877.9" width="2.6" height="2.6"/><rect x="172.4" y="876.4" width="2.6" height="2.6"/><rect x="149.0" y="896.8" width="2.6" height="2.6"/><rect x="152.3" y="886.3" width="2.6" height="2.6"/><rect x="149.3" y="891.4" width="2.6" height="2.6"/><rect x="154.6" y="882.2" width="2.6" height="2.6"/><rect x="170.7" y="885.4" width="2.6" height="2.6"/><rect x="161.0" y="895.5" width="2.6" height="2.6"/><rect x="160.5" y="885.8" width="2.6" height="2.6"/><rect x="134.0" y="882.8" width="2.6" height="2.6"/><rect x="191.4" y="885.8" width="2.6" height="2.6"/><rect x="172.6" y="881.0" width="2.6" height="2.6"/><rect x="151.7" y="890.8" width="2.6" height="2.6"/><rect x="165.1" y="886.2" width="2.6" height="2.6"/><rect x="199.9" y="880.3" width="2.6" height="2.6"/><rect x="180.0" y="883.5" width="2.6" height="2.6"/><rect x="175.0" y="875.6" width="2.6" height="2.6"/><rect x="173.2" y="878.1" width="2.6" height="2.6"/><rect x="176.6" y="878.6" width="2.6" height="2.6"/><rect x="165.7" y="880.4" width="2.6" height="2.6"/><rect x="152.3" y="885.7" width="2.6" height="2.6"/><rect x="146.4" y="895.9" width="2.6" height="2.6"/><rect x="138.5" y="880.2" width="2.6" height="2.6"/><rect x="172.0" y="872.4" width="2.6" height="2.6"/><rect x="153.3" y="885.1" width="2.6" height="2.6"/><rect x="179.5" y="886.4" width="2.6" height="2.6"/><rect x="144.5" y="887.8" width="2.6" height="2.6"/><rect x="157.2" y="877.5" width="2.6" height="2.6"/><rect x="181.5" y="882.3" width="2.6" height="2.6"/><rect x="144.1" y="894.8" width="2.6" height="2.6"/><rect x="142.4" y="888.9" width="2.6" height="2.6"/><rect x="191.4" y="889.2" width="2.6" height="2.6"/><rect x="155.2" y="888.1" width="2.6" height="2.6"/><rect x="170.6" y="891.9" width="2.6" height="2.6"/><rect x="164.3" y="892.3" width="2.6" height="2.6"/><rect x="174.3" y="874.1" width="2.6" height="2.6"/><rect x="170.7" y="877.6" width="2.6" height="2.6"/><rect x="152.0" y="898.7" width="2.6" height="2.6"/><rect x="144.0" y="894.8" width="2.6" height="2.6"/><rect x="150.4" y="890.3" width="2.6" height="2.6"/><rect x="161.4" y="888.9" width="2.6" height="2.6"/><rect x="169.8" y="895.6" width="2.6" height="2.6"/><rect x="155.3" y="880.1" width="2.6" height="2.6"/><rect x="127.2" y="900.8" width="2.6" height="2.6"/><rect x="143.0" y="882.5" width="2.6" height="2.6"/><rect x="158.8" y="881.2" width="2.6" height="2.6"/><rect x="185.9" y="886.7" width="2.6" height="2.6"/><rect x="172.7" y="890.0" width="2.6" height="2.6"/><rect x="159.2" y="885.8" width="2.6" height="2.6"/><rect x="191.3" y="882.5" width="2.6" height="2.6"/><rect x="152.9" y="902.2" width="2.6" height="2.6"/><rect x="164.1" y="895.1" width="2.6" height="2.6"/><rect x="156.0" y="882.6" width="2.6" height="2.6"/><rect x="138.6" y="888.8" width="2.6" height="2.6"/><rect x="162.1" y="889.1" width="2.6" height="2.6"/><rect x="182.0" y="891.7" width="2.6" height="2.6"/><rect x="164.6" y="891.0" width="2.6" height="2.6"/><rect x="152.5" y="892.4" width="2.6" height="2.6"/><rect x="181.6" y="863.9" width="2.6" height="2.6"/><rect x="168.4" y="894.7" width="2.6" height="2.6"/><rect x="185.6" y="872.8" width="2.6" height="2.6"/><rect x="176.6" y="881.3" width="2.6" height="2.6"/><rect x="175.1" y="883.4" width="2.6" height="2.6"/><rect x="148.5" y="885.7" width="2.6" height="2.6"/><rect x="154.8" y="889.4" width="2.6" height="2.6"/><rect x="171.8" y="873.4" width="2.6" height="2.6"/><rect x="181.4" y="880.7" width="2.6" height="2.6"/><rect x="153.5" y="887.0" width="2.6" height="2.6"/><rect x="150.8" y="887.9" width="2.6" height="2.6"/><rect x="170.9" y="883.8" width="2.6" height="2.6"/><rect x="136.7" y="896.5" width="2.6" height="2.6"/><rect x="150.2" y="889.4" width="2.6" height="2.6"/><rect x="146.4" y="891.9" width="2.6" height="2.6"/><rect x="156.5" y="881.9" width="2.6" height="2.6"/><rect x="162.4" y="881.6" width="2.6" height="2.6"/><rect x="163.0" y="899.6" width="2.6" height="2.6"/><rect x="126.3" y="890.6" width="2.6" height="2.6"/><rect x="144.8" y="880.2" width="2.6" height="2.6"/><rect x="198.2" y="892.5" width="2.6" height="2.6"/><rect x="178.3" y="893.4" width="2.6" height="2.6"/><rect x="180.3" y="877.1" width="2.6" height="2.6"/><rect x="187.6" y="884.8" width="2.6" height="2.6"/><rect x="154.8" y="889.9" width="2.6" height="2.6"/><rect x="151.2" y="895.9" width="2.6" height="2.6"/><rect x="160.4" y="884.9" width="2.6" height="2.6"/><rect x="184.7" y="888.2" width="2.6" height="2.6"/><rect x="161.4" y="884.5" width="2.6" height="2.6"/><rect x="145.9" y="884.2" width="2.6" height="2.6"/><rect x="147.3" y="882.1" width="2.6" height="2.6"/><rect x="145.4" y="889.8" width="2.6" height="2.6"/><rect x="146.4" y="891.2" width="2.6" height="2.6"/><rect x="129.6" y="888.5" width="2.6" height="2.6"/><rect x="134.4" y="889.1" width="2.6" height="2.6"/><rect x="137.0" y="886.8" width="2.6" height="2.6"/><rect x="153.7" y="890.6" width="2.6" height="2.6"/><rect x="135.3" y="890.0" width="2.6" height="2.6"/><rect x="174.3" y="889.3" width="2.6" height="2.6"/><rect x="202.6" y="887.0" width="2.6" height="2.6"/><rect x="164.8" y="884.6" width="2.6" height="2.6"/><rect x="168.4" y="877.0" width="2.6" height="2.6"/><rect x="165.0" y="889.7" width="2.6" height="2.6"/><rect x="159.1" y="882.0" width="2.6" height="2.6"/><rect x="145.4" y="884.9" width="2.6" height="2.6"/><rect x="140.4" y="887.0" width="2.6" height="2.6"/><rect x="141.9" y="882.7" width="2.6" height="2.6"/><rect x="173.8" y="889.1" width="2.6" height="2.6"/><rect x="167.1" y="881.5" width="2.6" height="2.6"/><rect x="165.8" y="883.5" width="2.6" height="2.6"/><rect x="156.2" y="912.2" width="2.6" height="2.6"/><rect x="141.4" y="885.1" width="2.6" height="2.6"/><rect x="158.4" y="881.9" width="2.6" height="2.6"/><rect x="181.7" y="870.0" width="2.6" height="2.6"/><rect x="135.1" y="896.1" width="2.6" height="2.6"/><rect x="152.3" y="886.1" width="2.6" height="2.6"/><rect x="184.0" y="881.6" width="2.6" height="2.6"/></g>
<line x1="114.40" y1="926.50" x2="208.70" y2="885.50" stroke="#E23224" stroke-width="1.5" stroke-linecap="butt"/>
<line x1="114.40" y1="890.50" x2="208.70" y2="882.70" stroke="#4B50BE" stroke-width="1.5" stroke-linecap="butt"/>
<rect x="51.20" y="846.30" width="177.70" height="118.70" fill="none" stroke="#000" stroke-width="1.5" />
<line x1="46.70" y1="965.00" x2="51.20" y2="965.00" stroke="#000" stroke-width="1.5" stroke-linecap="butt"/>
<text x="45.70" y="969.10" font-size="11.3" font-weight="bold" text-anchor="end" fill="#000">0</text>
<line x1="46.70" y1="925.43" x2="51.20" y2="925.43" stroke="#000" stroke-width="1.5" stroke-linecap="butt"/>
<text x="45.70" y="929.53" font-size="11.3" font-weight="bold" text-anchor="end" fill="#000">2</text>
<line x1="46.70" y1="885.87" x2="51.20" y2="885.87" stroke="#000" stroke-width="1.5" stroke-linecap="butt"/>
<text x="45.70" y="889.97" font-size="11.3" font-weight="bold" text-anchor="end" fill="#000">4</text>
<line x1="46.70" y1="846.30" x2="51.20" y2="846.30" stroke="#000" stroke-width="1.5" stroke-linecap="butt"/>
<text x="45.70" y="850.40" font-size="11.3" font-weight="bold" text-anchor="end" fill="#000">6</text>
<line x1="51.20" y1="965.00" x2="51.20" y2="969.50" stroke="#000" stroke-width="1.5" stroke-linecap="butt"/>
<text x="51.20" y="980.30" font-size="11" font-weight="bold" text-anchor="middle" fill="#000">0</text>
<line x1="86.74" y1="965.00" x2="86.74" y2="969.50" stroke="#000" stroke-width="1.5" stroke-linecap="butt"/>
<text x="86.74" y="980.30" font-size="11" font-weight="bold" text-anchor="middle" fill="#000">1</text>
<line x1="122.28" y1="965.00" x2="122.28" y2="969.50" stroke="#000" stroke-width="1.5" stroke-linecap="butt"/>
<text x="122.28" y="980.30" font-size="11" font-weight="bold" text-anchor="middle" fill="#000">2</text>
<line x1="157.82" y1="965.00" x2="157.82" y2="969.50" stroke="#000" stroke-width="1.5" stroke-linecap="butt"/>
<text x="157.82" y="980.30" font-size="11" font-weight="bold" text-anchor="middle" fill="#000">3</text>
<line x1="193.36" y1="965.00" x2="193.36" y2="969.50" stroke="#000" stroke-width="1.5" stroke-linecap="butt"/>
<text x="193.36" y="980.30" font-size="11" font-weight="bold" text-anchor="middle" fill="#000">4</text>
<line x1="228.90" y1="965.00" x2="228.90" y2="969.50" stroke="#000" stroke-width="1.5" stroke-linecap="butt"/>
<text x="228.90" y="980.30" font-size="11" font-weight="bold" text-anchor="middle" fill="#000">5</text>
<text x="139.50" y="839.80" font-size="14.1" font-weight="bold" text-anchor="middle" fill="#000">TCGA</text>
<text x="140.00" y="997.60" font-size="12.9" font-weight="bold" text-anchor="middle" fill="#000">CTCF mRNA expression</text>
<text x="76.00" y="1014.60" font-size="12.9" font-weight="bold" text-anchor="start" fill="#000" textLength="130.5" lengthAdjust="spacingAndGlyphs">(FPKM (log2<tspan font-size="8.5" dy="-5.5">(FPKM+1)</tspan><tspan dy="5.5">))</tspan></text>
<text x="13.40" y="903.50" font-size="12.7" font-weight="bold" text-anchor="middle" fill="#000" transform="rotate(-90 13.40 903.50)">mRNA expression</text>
<text x="32.30" y="966.30" font-size="12.5" font-weight="bold" text-anchor="start" fill="#000" transform="rotate(-90 32.30 966.30)" textLength="126.5" lengthAdjust="spacingAndGlyphs">(FPKM (log2<tspan font-size="8.5" dy="-5.5">(FPKM+1)</tspan><tspan dy="5.5">))</tspan></text>
<line x1="240.40" y1="851.30" x2="253.90" y2="851.30" stroke="#E23224" stroke-width="1.1" stroke-linecap="butt"/>
<circle cx="247.20000000000002" cy="851.3" r="1.2" fill="#E23224"/>
<text x="261.20" y="855.10" font-size="11.2" font-weight="bold" text-anchor="start" fill="#000">OGT</text>
<text x="239.90" y="868.50" font-size="11.2" font-weight="normal" text-anchor="start" fill="#000">Pearson r = 0.5696</text>
<text x="239.90" y="881.60" font-size="11.1" font-weight="normal" text-anchor="start" fill="#000"><tspan font-style="italic">P</tspan>-value &lt; 0.0001</text>
<line x1="240.40" y1="893.40" x2="253.90" y2="893.40" stroke="#4B50BE" stroke-width="1.1" stroke-linecap="butt"/>
<rect x="246.0" y="892.1999999999999" width="2.4" height="2.4" fill="#4B50BE"/>
<text x="261.20" y="897.40" font-size="11.2" font-weight="bold" text-anchor="start" fill="#000" textLength="28.2" lengthAdjust="spacingAndGlyphs">BAP1</text>
<text x="239.90" y="910.80" font-size="11.2" font-weight="normal" text-anchor="start" fill="#000">Pearson r = 0.1254</text>
<text x="239.90" y="923.60" font-size="11.1" font-weight="normal" text-anchor="start" fill="#000"><tspan font-style="italic">P</tspan>-value = 0.0156</text>
<g fill="#E23224"><circle cx="529.5" cy="878.7" r="1.3"/><circle cx="460.9" cy="913.3" r="1.3"/><circle cx="456.0" cy="921.5" r="1.3"/><circle cx="475.6" cy="908.3" r="1.3"/><circle cx="461.0" cy="911.5" r="1.3"/><circle cx="471.7" cy="913.0" r="1.3"/><circle cx="484.8" cy="918.0" r="1.3"/><circle cx="478.4" cy="881.9" r="1.3"/><circle cx="467.8" cy="897.6" r="1.3"/><circle cx="457.8" cy="896.2" r="1.3"/><circle cx="449.0" cy="918.9" r="1.3"/><circle cx="459.7" cy="907.8" r="1.3"/><circle cx="452.5" cy="933.0" r="1.3"/><circle cx="484.0" cy="894.7" r="1.3"/><circle cx="463.4" cy="911.0" r="1.3"/><circle cx="460.2" cy="913.4" r="1.3"/><circle cx="465.7" cy="908.9" r="1.3"/><circle cx="453.4" cy="926.0" r="1.3"/><circle cx="471.9" cy="919.9" r="1.3"/><circle cx="475.6" cy="918.9" r="1.3"/><circle cx="483.9" cy="889.5" r="1.3"/><circle cx="474.3" cy="906.7" r="1.3"/><circle cx="466.4" cy="902.0" r="1.3"/><circle cx="511.8" cy="885.6" r="1.3"/><circle cx="462.2" cy="907.3" r="1.3"/><circle cx="476.0" cy="899.2" r="1.3"/><circle cx="461.5" cy="923.3" r="1.3"/><circle cx="466.1" cy="912.9" r="1.3"/><circle cx="467.4" cy="932.7" r="1.3"/><circle cx="447.5" cy="924.2" r="1.3"/><circle cx="482.7" cy="913.1" r="1.3"/><circle cx="463.5" cy="907.7" r="1.3"/><circle cx="472.8" cy="909.1" r="1.3"/><circle cx="468.2" cy="929.8" r="1.3"/><circle cx="475.4" cy="895.1" r="1.3"/><circle cx="444.6" cy="924.4" r="1.3"/><circle cx="509.1" cy="902.2" r="1.3"/><circle cx="470.0" cy="900.7" r="1.3"/><circle cx="441.6" cy="937.9" r="1.3"/><circle cx="495.2" cy="900.1" r="1.3"/><circle cx="480.6" cy="913.5" r="1.3"/><circle cx="474.9" cy="914.2" r="1.3"/><circle cx="496.3" cy="912.9" r="1.3"/><circle cx="466.3" cy="903.8" r="1.3"/><circle cx="476.0" cy="918.0" r="1.3"/><circle cx="507.0" cy="877.7" r="1.3"/><circle cx="446.5" cy="927.0" r="1.3"/><circle cx="480.9" cy="901.1" r="1.3"/><circle cx="485.8" cy="888.6" r="1.3"/><circle cx="451.3" cy="912.2" r="1.3"/><circle cx="447.3" cy="904.6" r="1.3"/><circle cx="499.7" cy="914.6" r="1.3"/><circle cx="469.6" cy="874.9" r="1.3"/><circle cx="478.7" cy="916.4" r="1.3"/><circle cx="450.4" cy="901.3" r="1.3"/><circle cx="468.8" cy="904.4" r="1.3"/><circle cx="461.6" cy="922.1" r="1.3"/><circle cx="461.1" cy="920.0" r="1.3"/><circle cx="480.4" cy="909.2" r="1.3"/><circle cx="497.9" cy="906.0" r="1.3"/><circle cx="460.5" cy="905.0" r="1.3"/><circle cx="466.6" cy="914.0" r="1.3"/><circle cx="451.0" cy="930.3" r="1.3"/><circle cx="474.7" cy="898.9" r="1.3"/><circle cx="470.3" cy="895.7" r="1.3"/><circle cx="466.4" cy="924.3" r="1.3"/><circle cx="465.8" cy="912.5" r="1.3"/><circle cx="462.2" cy="933.6" r="1.3"/><circle cx="484.8" cy="895.6" r="1.3"/><circle cx="477.9" cy="915.3" r="1.3"/><circle cx="449.1" cy="931.7" r="1.3"/><circle cx="465.2" cy="922.6" r="1.3"/><circle cx="472.9" cy="908.2" r="1.3"/><circle cx="473.5" cy="922.8" r="1.3"/><circle cx="436.8" cy="916.1" r="1.3"/><circle cx="480.4" cy="908.9" r="1.3"/><circle cx="466.2" cy="909.4" r="1.3"/><circle cx="478.9" cy="904.9" r="1.3"/><circle cx="479.3" cy="901.8" r="1.3"/><circle cx="466.2" cy="901.1" r="1.3"/><circle cx="474.3" cy="904.4" r="1.3"/><circle cx="456.5" cy="923.9" r="1.3"/><circle cx="468.0" cy="901.8" r="1.3"/><circle cx="473.9" cy="905.3" r="1.3"/><circle cx="477.2" cy="898.6" r="1.3"/><circle cx="457.7" cy="923.3" r="1.3"/><circle cx="479.9" cy="902.2" r="1.3"/><circle cx="479.4" cy="906.3" r="1.3"/><circle cx="477.0" cy="893.6" r="1.3"/><circle cx="491.9" cy="899.8" r="1.3"/><circle cx="474.9" cy="911.2" r="1.3"/><circle cx="474.3" cy="895.5" r="1.3"/><circle cx="464.5" cy="910.7" r="1.3"/><circle cx="490.4" cy="888.4" r="1.3"/><circle cx="468.0" cy="919.9" r="1.3"/><circle cx="455.0" cy="935.4" r="1.3"/><circle cx="492.0" cy="877.7" r="1.3"/><circle cx="505.8" cy="903.1" r="1.3"/><circle cx="494.6" cy="917.6" r="1.3"/><circle cx="465.0" cy="909.8" r="1.3"/><circle cx="463.9" cy="914.6" r="1.3"/><circle cx="471.1" cy="902.3" r="1.3"/><circle cx="465.0" cy="893.1" r="1.3"/><circle cx="448.6" cy="936.9" r="1.3"/><circle cx="453.3" cy="901.5" r="1.3"/><circle cx="459.3" cy="890.4" r="1.3"/><circle cx="488.3" cy="890.3" r="1.3"/><circle cx="481.7" cy="912.7" r="1.3"/><circle cx="462.2" cy="920.5" r="1.3"/><circle cx="483.9" cy="896.9" r="1.3"/><circle cx="458.1" cy="926.4" r="1.3"/><circle cx="489.0" cy="908.2" r="1.3"/><circle cx="499.0" cy="895.3" r="1.3"/><circle cx="470.1" cy="908.0" r="1.3"/><circle cx="492.8" cy="905.8" r="1.3"/><circle cx="468.2" cy="911.6" r="1.3"/><circle cx="483.2" cy="899.2" r="1.3"/><circle cx="465.9" cy="901.9" r="1.3"/><circle cx="481.4" cy="903.6" r="1.3"/><circle cx="454.2" cy="904.1" r="1.3"/><circle cx="478.5" cy="902.4" r="1.3"/><circle cx="472.6" cy="909.5" r="1.3"/><circle cx="458.1" cy="912.7" r="1.3"/><circle cx="462.3" cy="921.5" r="1.3"/><circle cx="462.7" cy="910.4" r="1.3"/><circle cx="457.6" cy="913.1" r="1.3"/><circle cx="454.7" cy="902.2" r="1.3"/><circle cx="454.3" cy="917.9" r="1.3"/><circle cx="494.7" cy="895.7" r="1.3"/><circle cx="465.8" cy="884.3" r="1.3"/><circle cx="458.2" cy="926.8" r="1.3"/><circle cx="460.9" cy="911.9" r="1.3"/><circle cx="476.2" cy="890.6" r="1.3"/><circle cx="444.1" cy="927.6" r="1.3"/><circle cx="522.5" cy="891.3" r="1.3"/><circle cx="470.1" cy="917.8" r="1.3"/><circle cx="460.6" cy="915.4" r="1.3"/><circle cx="483.4" cy="905.6" r="1.3"/><circle cx="475.0" cy="895.3" r="1.3"/><circle cx="472.1" cy="900.8" r="1.3"/><circle cx="471.9" cy="906.3" r="1.3"/><circle cx="462.4" cy="893.7" r="1.3"/><circle cx="461.0" cy="915.2" r="1.3"/><circle cx="455.8" cy="933.7" r="1.3"/><circle cx="459.8" cy="881.1" r="1.3"/><circle cx="478.1" cy="916.2" r="1.3"/><circle cx="467.6" cy="891.4" r="1.3"/><circle cx="448.8" cy="928.7" r="1.3"/><circle cx="462.9" cy="891.3" r="1.3"/><circle cx="523.3" cy="908.2" r="1.3"/><circle cx="471.8" cy="902.0" r="1.3"/><circle cx="501.5" cy="888.8" r="1.3"/><circle cx="510.9" cy="883.6" r="1.3"/><circle cx="522.4" cy="898.0" r="1.3"/><circle cx="516.1" cy="873.8" r="1.3"/><circle cx="471.1" cy="905.0" r="1.3"/><circle cx="464.6" cy="916.1" r="1.3"/><circle cx="468.1" cy="915.9" r="1.3"/><circle cx="439.7" cy="918.6" r="1.3"/><circle cx="466.7" cy="905.4" r="1.3"/><circle cx="511.9" cy="889.3" r="1.3"/><circle cx="474.4" cy="899.1" r="1.3"/><circle cx="468.2" cy="906.0" r="1.3"/><circle cx="521.3" cy="909.4" r="1.3"/><circle cx="478.3" cy="895.8" r="1.3"/><circle cx="485.0" cy="913.8" r="1.3"/><circle cx="475.4" cy="922.4" r="1.3"/><circle cx="525.0" cy="890.8" r="1.3"/><circle cx="479.8" cy="896.7" r="1.3"/><circle cx="449.8" cy="924.8" r="1.3"/><circle cx="459.6" cy="909.6" r="1.3"/><circle cx="472.1" cy="899.7" r="1.3"/><circle cx="458.3" cy="913.2" r="1.3"/><circle cx="478.9" cy="902.4" r="1.3"/><circle cx="465.2" cy="913.0" r="1.3"/><circle cx="460.7" cy="921.4" r="1.3"/><circle cx="484.5" cy="903.4" r="1.3"/><circle cx="491.5" cy="900.0" r="1.3"/><circle cx="523.1" cy="889.9" r="1.3"/><circle cx="478.8" cy="923.4" r="1.3"/><circle cx="505.1" cy="895.6" r="1.3"/><circle cx="456.2" cy="921.2" r="1.3"/><circle cx="492.7" cy="898.3" r="1.3"/><circle cx="453.4" cy="914.8" r="1.3"/><circle cx="472.2" cy="909.9" r="1.3"/><circle cx="490.2" cy="882.5" r="1.3"/><circle cx="461.0" cy="922.3" r="1.3"/><circle cx="467.7" cy="893.8" r="1.3"/><circle cx="457.7" cy="929.4" r="1.3"/><circle cx="468.3" cy="920.7" r="1.3"/><circle cx="489.0" cy="890.0" r="1.3"/><circle cx="466.8" cy="925.2" r="1.3"/><circle cx="452.1" cy="914.3" r="1.3"/><circle cx="486.8" cy="918.1" r="1.3"/><circle cx="460.4" cy="898.6" r="1.3"/><circle cx="466.1" cy="916.1" r="1.3"/><circle cx="489.3" cy="887.9" r="1.3"/><circle cx="477.3" cy="902.8" r="1.3"/><circle cx="453.3" cy="914.9" r="1.3"/><circle cx="466.4" cy="903.1" r="1.3"/><circle cx="494.4" cy="905.9" r="1.3"/><circle cx="477.8" cy="928.8" r="1.3"/><circle cx="437.7" cy="900.2" r="1.3"/><circle cx="473.4" cy="909.0" r="1.3"/><circle cx="456.7" cy="921.4" r="1.3"/><circle cx="492.2" cy="912.2" r="1.3"/><circle cx="463.1" cy="915.7" r="1.3"/><circle cx="458.9" cy="921.1" r="1.3"/><circle cx="489.6" cy="906.5" r="1.3"/><circle cx="449.4" cy="922.4" r="1.3"/><circle cx="486.5" cy="876.1" r="1.3"/><circle cx="451.0" cy="929.0" r="1.3"/><circle cx="484.5" cy="911.2" r="1.3"/><circle cx="445.3" cy="926.5" r="1.3"/><circle cx="442.1" cy="938.5" r="1.3"/><circle cx="448.8" cy="910.0" r="1.3"/><circle cx="454.7" cy="898.4" r="1.3"/><circle cx="474.2" cy="913.9" r="1.3"/><circle cx="456.9" cy="914.2" r="1.3"/><circle cx="455.9" cy="929.1" r="1.3"/><circle cx="467.8" cy="879.3" r="1.3"/><circle cx="452.9" cy="903.2" r="1.3"/><circle cx="469.9" cy="929.2" r="1.3"/><circle cx="470.3" cy="925.0" r="1.3"/><circle cx="480.7" cy="904.9" r="1.3"/><circle cx="475.5" cy="921.4" r="1.3"/><circle cx="486.8" cy="891.3" r="1.3"/><circle cx="443.8" cy="930.7" r="1.3"/><circle cx="480.9" cy="907.1" r="1.3"/><circle cx="479.7" cy="892.4" r="1.3"/><circle cx="433.7" cy="926.6" r="1.3"/><circle cx="480.0" cy="885.5" r="1.3"/><circle cx="456.2" cy="910.2" r="1.3"/><circle cx="455.9" cy="908.0" r="1.3"/><circle cx="517.1" cy="884.3" r="1.3"/><circle cx="473.4" cy="915.2" r="1.3"/><circle cx="503.8" cy="892.8" r="1.3"/><circle cx="512.0" cy="902.9" r="1.3"/><circle cx="463.2" cy="908.5" r="1.3"/><circle cx="481.4" cy="920.4" r="1.3"/><circle cx="502.6" cy="898.6" r="1.3"/><circle cx="472.5" cy="909.7" r="1.3"/><circle cx="486.4" cy="905.7" r="1.3"/><circle cx="471.7" cy="908.2" r="1.3"/><circle cx="447.1" cy="913.6" r="1.3"/><circle cx="478.2" cy="912.0" r="1.3"/><circle cx="463.7" cy="901.4" r="1.3"/><circle cx="459.5" cy="912.7" r="1.3"/><circle cx="441.0" cy="923.2" r="1.3"/><circle cx="474.1" cy="905.3" r="1.3"/><circle cx="483.9" cy="909.5" r="1.3"/><circle cx="448.5" cy="919.8" r="1.3"/><circle cx="478.6" cy="927.2" r="1.3"/><circle cx="505.4" cy="879.9" r="1.3"/><circle cx="450.5" cy="918.9" r="1.3"/><circle cx="481.8" cy="895.8" r="1.3"/><circle cx="487.5" cy="898.9" r="1.3"/><circle cx="495.3" cy="913.9" r="1.3"/><circle cx="458.5" cy="907.8" r="1.3"/><circle cx="470.9" cy="886.8" r="1.3"/><circle cx="462.4" cy="917.0" r="1.3"/><circle cx="469.2" cy="904.4" r="1.3"/><circle cx="474.3" cy="905.3" r="1.3"/><circle cx="470.0" cy="913.7" r="1.3"/><circle cx="447.5" cy="925.1" r="1.3"/><circle cx="476.5" cy="918.1" r="1.3"/><circle cx="483.2" cy="910.4" r="1.3"/><circle cx="492.4" cy="909.7" r="1.3"/><circle cx="474.2" cy="910.5" r="1.3"/><circle cx="443.6" cy="912.8" r="1.3"/><circle cx="515.0" cy="895.2" r="1.3"/><circle cx="473.0" cy="912.3" r="1.3"/><circle cx="461.5" cy="908.0" r="1.3"/><circle cx="466.7" cy="912.3" r="1.3"/><circle cx="476.5" cy="900.9" r="1.3"/><circle cx="478.1" cy="907.4" r="1.3"/><circle cx="493.2" cy="901.3" r="1.3"/><circle cx="473.3" cy="907.1" r="1.3"/><circle cx="487.2" cy="882.0" r="1.3"/><circle cx="468.6" cy="903.9" r="1.3"/><circle cx="466.2" cy="919.1" r="1.3"/><circle cx="452.3" cy="918.8" r="1.3"/><circle cx="470.5" cy="929.2" r="1.3"/><circle cx="474.4" cy="916.6" r="1.3"/><circle cx="489.0" cy="913.8" r="1.3"/><circle cx="470.6" cy="908.9" r="1.3"/><circle cx="473.5" cy="917.6" r="1.3"/><circle cx="488.6" cy="905.6" r="1.3"/><circle cx="480.8" cy="897.4" r="1.3"/><circle cx="447.3" cy="917.4" r="1.3"/><circle cx="467.7" cy="897.2" r="1.3"/><circle cx="468.2" cy="917.2" r="1.3"/><circle cx="467.6" cy="912.1" r="1.3"/><circle cx="469.1" cy="907.6" r="1.3"/><circle cx="468.5" cy="908.8" r="1.3"/><circle cx="466.2" cy="909.5" r="1.3"/><circle cx="476.7" cy="900.3" r="1.3"/><circle cx="444.7" cy="934.8" r="1.3"/><circle cx="468.7" cy="923.9" r="1.3"/><circle cx="491.9" cy="915.6" r="1.3"/><circle cx="456.5" cy="918.5" r="1.3"/><circle cx="501.2" cy="900.0" r="1.3"/><circle cx="453.6" cy="914.3" r="1.3"/><circle cx="464.4" cy="912.1" r="1.3"/><circle cx="464.8" cy="930.4" r="1.3"/><circle cx="470.4" cy="903.5" r="1.3"/><circle cx="494.5" cy="891.4" r="1.3"/><circle cx="454.0" cy="923.3" r="1.3"/><circle cx="499.3" cy="912.7" r="1.3"/><circle cx="481.9" cy="898.7" r="1.3"/><circle cx="474.0" cy="898.3" r="1.3"/><circle cx="463.8" cy="922.5" r="1.3"/><circle cx="471.5" cy="899.6" r="1.3"/><circle cx="477.7" cy="903.5" r="1.3"/><circle cx="471.8" cy="914.2" r="1.3"/><circle cx="477.6" cy="924.0" r="1.3"/><circle cx="444.9" cy="902.4" r="1.3"/><circle cx="497.8" cy="894.5" r="1.3"/><circle cx="485.9" cy="896.4" r="1.3"/><circle cx="497.3" cy="894.3" r="1.3"/><circle cx="465.1" cy="926.6" r="1.3"/><circle cx="482.0" cy="916.4" r="1.3"/><circle cx="453.0" cy="914.8" r="1.3"/><circle cx="475.6" cy="892.4" r="1.3"/><circle cx="468.5" cy="904.0" r="1.3"/><circle cx="466.3" cy="912.1" r="1.3"/><circle cx="469.7" cy="897.6" r="1.3"/><circle cx="477.1" cy="894.7" r="1.3"/><circle cx="482.4" cy="909.7" r="1.3"/><circle cx="461.2" cy="921.3" r="1.3"/><circle cx="496.7" cy="891.7" r="1.3"/><circle cx="521.3" cy="891.0" r="1.3"/><circle cx="450.3" cy="902.8" r="1.3"/><circle cx="473.4" cy="909.1" r="1.3"/><circle cx="450.9" cy="922.8" r="1.3"/><circle cx="469.8" cy="898.4" r="1.3"/><circle cx="455.6" cy="915.2" r="1.3"/><circle cx="490.0" cy="893.3" r="1.3"/><circle cx="445.2" cy="907.0" r="1.3"/><circle cx="475.2" cy="900.2" r="1.3"/><circle cx="470.5" cy="898.1" r="1.3"/><circle cx="485.6" cy="932.2" r="1.3"/><circle cx="467.4" cy="905.7" r="1.3"/><circle cx="474.9" cy="911.0" r="1.3"/><circle cx="458.2" cy="906.6" r="1.3"/><circle cx="467.0" cy="919.1" r="1.3"/><circle cx="480.0" cy="891.3" r="1.3"/><circle cx="479.5" cy="904.9" r="1.3"/><circle cx="492.3" cy="891.7" r="1.3"/><circle cx="477.0" cy="909.7" r="1.3"/><circle cx="447.0" cy="932.3" r="1.3"/><circle cx="470.5" cy="889.8" r="1.3"/><circle cx="450.4" cy="908.4" r="1.3"/><circle cx="475.2" cy="900.7" r="1.3"/><circle cx="475.9" cy="900.3" r="1.3"/><circle cx="483.6" cy="915.3" r="1.3"/><circle cx="458.8" cy="917.6" r="1.3"/><circle cx="465.4" cy="910.7" r="1.3"/><circle cx="474.9" cy="913.5" r="1.3"/><circle cx="480.9" cy="908.7" r="1.3"/><circle cx="468.4" cy="915.8" r="1.3"/><circle cx="463.8" cy="899.2" r="1.3"/><circle cx="481.3" cy="893.1" r="1.3"/><circle cx="483.2" cy="902.9" r="1.3"/><circle cx="438.1" cy="928.1" r="1.3"/><circle cx="485.4" cy="895.6" r="1.3"/><circle cx="466.3" cy="909.4" r="1.3"/><circle cx="500.0" cy="899.1" r="1.3"/><circle cx="474.8" cy="908.6" r="1.3"/><circle cx="462.5" cy="910.5" r="1.3"/><circle cx="469.5" cy="910.2" r="1.3"/></g>
<g fill="#4B50BE"><rect x="528.2" y="912.6" width="2.6" height="2.6"/><rect x="454.7" y="918.4" width="2.6" height="2.6"/><rect x="474.3" y="916.1" width="2.6" height="2.6"/><rect x="459.7" y="926.5" width="2.6" height="2.6"/><rect x="470.4" y="929.1" width="2.6" height="2.6"/><rect x="483.5" y="920.2" width="2.6" height="2.6"/><rect x="477.1" y="919.8" width="2.6" height="2.6"/><rect x="466.5" y="895.9" width="2.6" height="2.6"/><rect x="456.5" y="887.8" width="2.6" height="2.6"/><rect x="447.7" y="871.3" width="2.6" height="2.6"/><rect x="458.4" y="885.1" width="2.6" height="2.6"/><rect x="451.2" y="898.3" width="2.6" height="2.6"/><rect x="482.7" y="889.5" width="2.6" height="2.6"/><rect x="462.1" y="903.9" width="2.6" height="2.6"/><rect x="458.9" y="887.3" width="2.6" height="2.6"/><rect x="464.4" y="896.9" width="2.6" height="2.6"/><rect x="452.1" y="887.0" width="2.6" height="2.6"/><rect x="470.6" y="885.1" width="2.6" height="2.6"/><rect x="474.3" y="890.3" width="2.6" height="2.6"/><rect x="482.6" y="880.0" width="2.6" height="2.6"/><rect x="473.0" y="896.0" width="2.6" height="2.6"/><rect x="465.1" y="889.3" width="2.6" height="2.6"/><rect x="510.5" y="878.0" width="2.6" height="2.6"/><rect x="460.9" y="894.2" width="2.6" height="2.6"/><rect x="474.7" y="886.6" width="2.6" height="2.6"/><rect x="460.2" y="872.9" width="2.6" height="2.6"/><rect x="464.8" y="887.0" width="2.6" height="2.6"/><rect x="466.1" y="887.2" width="2.6" height="2.6"/><rect x="446.2" y="906.3" width="2.6" height="2.6"/><rect x="481.4" y="884.6" width="2.6" height="2.6"/><rect x="462.2" y="895.5" width="2.6" height="2.6"/><rect x="471.5" y="881.4" width="2.6" height="2.6"/><rect x="466.9" y="889.9" width="2.6" height="2.6"/><rect x="474.1" y="886.5" width="2.6" height="2.6"/><rect x="443.3" y="880.8" width="2.6" height="2.6"/><rect x="507.8" y="883.8" width="2.6" height="2.6"/><rect x="468.7" y="889.9" width="2.6" height="2.6"/><rect x="440.3" y="872.9" width="2.6" height="2.6"/><rect x="493.9" y="877.3" width="2.6" height="2.6"/><rect x="479.3" y="872.5" width="2.6" height="2.6"/><rect x="473.6" y="885.0" width="2.6" height="2.6"/><rect x="495.0" y="903.3" width="2.6" height="2.6"/><rect x="465.0" y="883.3" width="2.6" height="2.6"/><rect x="474.7" y="880.4" width="2.6" height="2.6"/><rect x="505.7" y="889.2" width="2.6" height="2.6"/><rect x="445.2" y="901.1" width="2.6" height="2.6"/><rect x="479.6" y="889.0" width="2.6" height="2.6"/><rect x="484.5" y="885.0" width="2.6" height="2.6"/><rect x="450.0" y="887.3" width="2.6" height="2.6"/><rect x="446.0" y="879.5" width="2.6" height="2.6"/><rect x="498.4" y="883.8" width="2.6" height="2.6"/><rect x="468.3" y="883.7" width="2.6" height="2.6"/><rect x="477.4" y="895.0" width="2.6" height="2.6"/><rect x="449.1" y="885.7" width="2.6" height="2.6"/><rect x="467.5" y="885.2" width="2.6" height="2.6"/><rect x="460.3" y="885.7" width="2.6" height="2.6"/><rect x="459.8" y="867.3" width="2.6" height="2.6"/><rect x="479.1" y="882.8" width="2.6" height="2.6"/><rect x="496.6" y="889.5" width="2.6" height="2.6"/><rect x="459.2" y="907.4" width="2.6" height="2.6"/><rect x="465.3" y="880.2" width="2.6" height="2.6"/><rect x="449.7" y="895.8" width="2.6" height="2.6"/><rect x="473.4" y="886.4" width="2.6" height="2.6"/><rect x="469.0" y="891.4" width="2.6" height="2.6"/><rect x="465.1" y="888.0" width="2.6" height="2.6"/><rect x="464.5" y="890.0" width="2.6" height="2.6"/><rect x="460.9" y="888.9" width="2.6" height="2.6"/><rect x="483.5" y="888.8" width="2.6" height="2.6"/><rect x="476.6" y="886.3" width="2.6" height="2.6"/><rect x="447.8" y="876.3" width="2.6" height="2.6"/><rect x="463.9" y="884.0" width="2.6" height="2.6"/><rect x="471.6" y="891.0" width="2.6" height="2.6"/><rect x="472.2" y="886.4" width="2.6" height="2.6"/><rect x="435.5" y="903.9" width="2.6" height="2.6"/><rect x="479.1" y="875.7" width="2.6" height="2.6"/><rect x="464.9" y="891.2" width="2.6" height="2.6"/><rect x="477.6" y="880.8" width="2.6" height="2.6"/><rect x="478.0" y="902.3" width="2.6" height="2.6"/><rect x="464.9" y="885.1" width="2.6" height="2.6"/><rect x="473.0" y="892.9" width="2.6" height="2.6"/><rect x="455.2" y="894.2" width="2.6" height="2.6"/><rect x="466.7" y="892.1" width="2.6" height="2.6"/><rect x="472.6" y="891.6" width="2.6" height="2.6"/><rect x="475.9" y="880.1" width="2.6" height="2.6"/><rect x="456.4" y="890.7" width="2.6" height="2.6"/><rect x="478.6" y="883.8" width="2.6" height="2.6"/><rect x="478.1" y="876.7" width="2.6" height="2.6"/><rect x="475.7" y="881.6" width="2.6" height="2.6"/><rect x="490.6" y="897.1" width="2.6" height="2.6"/><rect x="473.6" y="886.4" width="2.6" height="2.6"/><rect x="473.0" y="886.6" width="2.6" height="2.6"/><rect x="463.2" y="882.0" width="2.6" height="2.6"/><rect x="489.1" y="900.9" width="2.6" height="2.6"/><rect x="466.7" y="883.3" width="2.6" height="2.6"/><rect x="453.7" y="884.7" width="2.6" height="2.6"/><rect x="490.7" y="883.3" width="2.6" height="2.6"/><rect x="504.5" y="878.5" width="2.6" height="2.6"/><rect x="493.3" y="878.2" width="2.6" height="2.6"/><rect x="463.7" y="879.9" width="2.6" height="2.6"/><rect x="462.6" y="890.4" width="2.6" height="2.6"/><rect x="469.8" y="894.9" width="2.6" height="2.6"/><rect x="463.7" y="899.0" width="2.6" height="2.6"/><rect x="447.3" y="892.2" width="2.6" height="2.6"/><rect x="452.0" y="879.0" width="2.6" height="2.6"/><rect x="458.0" y="906.9" width="2.6" height="2.6"/><rect x="487.0" y="887.1" width="2.6" height="2.6"/><rect x="480.4" y="894.3" width="2.6" height="2.6"/><rect x="460.9" y="881.4" width="2.6" height="2.6"/><rect x="482.6" y="882.8" width="2.6" height="2.6"/><rect x="456.8" y="881.0" width="2.6" height="2.6"/><rect x="487.7" y="865.8" width="2.6" height="2.6"/><rect x="497.7" y="883.9" width="2.6" height="2.6"/><rect x="468.8" y="890.8" width="2.6" height="2.6"/><rect x="491.5" y="888.4" width="2.6" height="2.6"/><rect x="466.9" y="879.9" width="2.6" height="2.6"/><rect x="481.9" y="900.0" width="2.6" height="2.6"/><rect x="464.6" y="902.6" width="2.6" height="2.6"/><rect x="480.1" y="891.5" width="2.6" height="2.6"/><rect x="452.9" y="877.9" width="2.6" height="2.6"/><rect x="477.2" y="900.3" width="2.6" height="2.6"/><rect x="471.3" y="877.5" width="2.6" height="2.6"/><rect x="456.8" y="901.6" width="2.6" height="2.6"/><rect x="461.0" y="887.7" width="2.6" height="2.6"/><rect x="461.4" y="898.5" width="2.6" height="2.6"/><rect x="456.3" y="894.4" width="2.6" height="2.6"/><rect x="453.4" y="888.2" width="2.6" height="2.6"/><rect x="453.0" y="896.4" width="2.6" height="2.6"/><rect x="493.4" y="894.2" width="2.6" height="2.6"/><rect x="464.5" y="883.5" width="2.6" height="2.6"/><rect x="456.9" y="890.4" width="2.6" height="2.6"/><rect x="459.6" y="898.1" width="2.6" height="2.6"/><rect x="474.9" y="891.8" width="2.6" height="2.6"/><rect x="442.8" y="882.6" width="2.6" height="2.6"/><rect x="521.2" y="888.3" width="2.6" height="2.6"/><rect x="468.8" y="887.2" width="2.6" height="2.6"/><rect x="459.3" y="889.0" width="2.6" height="2.6"/><rect x="482.1" y="882.5" width="2.6" height="2.6"/><rect x="473.7" y="881.9" width="2.6" height="2.6"/><rect x="470.8" y="884.6" width="2.6" height="2.6"/><rect x="470.6" y="880.0" width="2.6" height="2.6"/><rect x="461.1" y="883.6" width="2.6" height="2.6"/><rect x="459.7" y="879.9" width="2.6" height="2.6"/><rect x="454.5" y="889.9" width="2.6" height="2.6"/><rect x="458.5" y="877.6" width="2.6" height="2.6"/><rect x="476.8" y="892.1" width="2.6" height="2.6"/><rect x="466.3" y="876.6" width="2.6" height="2.6"/><rect x="447.5" y="894.0" width="2.6" height="2.6"/><rect x="461.6" y="873.7" width="2.6" height="2.6"/><rect x="522.0" y="884.3" width="2.6" height="2.6"/><rect x="470.5" y="886.0" width="2.6" height="2.6"/><rect x="500.2" y="882.8" width="2.6" height="2.6"/><rect x="509.6" y="874.9" width="2.6" height="2.6"/><rect x="521.1" y="882.4" width="2.6" height="2.6"/><rect x="514.8" y="892.4" width="2.6" height="2.6"/><rect x="469.8" y="902.7" width="2.6" height="2.6"/><rect x="463.3" y="877.7" width="2.6" height="2.6"/><rect x="466.8" y="887.7" width="2.6" height="2.6"/><rect x="438.4" y="895.2" width="2.6" height="2.6"/><rect x="465.4" y="877.8" width="2.6" height="2.6"/><rect x="510.6" y="883.0" width="2.6" height="2.6"/><rect x="473.1" y="889.5" width="2.6" height="2.6"/><rect x="466.9" y="886.7" width="2.6" height="2.6"/><rect x="520.0" y="881.4" width="2.6" height="2.6"/><rect x="477.0" y="897.4" width="2.6" height="2.6"/><rect x="483.7" y="875.1" width="2.6" height="2.6"/><rect x="474.1" y="874.1" width="2.6" height="2.6"/><rect x="523.7" y="890.6" width="2.6" height="2.6"/><rect x="478.5" y="879.8" width="2.6" height="2.6"/><rect x="448.5" y="895.6" width="2.6" height="2.6"/><rect x="458.3" y="895.9" width="2.6" height="2.6"/><rect x="470.8" y="882.4" width="2.6" height="2.6"/><rect x="457.0" y="893.6" width="2.6" height="2.6"/><rect x="477.6" y="886.3" width="2.6" height="2.6"/><rect x="463.9" y="893.5" width="2.6" height="2.6"/><rect x="459.4" y="881.3" width="2.6" height="2.6"/><rect x="483.2" y="874.8" width="2.6" height="2.6"/><rect x="490.2" y="883.0" width="2.6" height="2.6"/><rect x="521.8" y="871.2" width="2.6" height="2.6"/><rect x="477.5" y="881.7" width="2.6" height="2.6"/><rect x="503.8" y="877.9" width="2.6" height="2.6"/><rect x="454.9" y="886.5" width="2.6" height="2.6"/><rect x="491.4" y="897.0" width="2.6" height="2.6"/><rect x="452.1" y="885.2" width="2.6" height="2.6"/><rect x="470.9" y="873.0" width="2.6" height="2.6"/><rect x="488.9" y="885.3" width="2.6" height="2.6"/><rect x="459.7" y="884.2" width="2.6" height="2.6"/><rect x="466.4" y="894.7" width="2.6" height="2.6"/><rect x="456.4" y="898.0" width="2.6" height="2.6"/><rect x="467.0" y="888.0" width="2.6" height="2.6"/><rect x="487.7" y="869.4" width="2.6" height="2.6"/><rect x="465.5" y="890.0" width="2.6" height="2.6"/><rect x="450.8" y="876.7" width="2.6" height="2.6"/><rect x="485.5" y="883.8" width="2.6" height="2.6"/><rect x="459.1" y="891.0" width="2.6" height="2.6"/><rect x="464.8" y="903.5" width="2.6" height="2.6"/><rect x="488.0" y="877.3" width="2.6" height="2.6"/><rect x="476.0" y="889.2" width="2.6" height="2.6"/><rect x="452.0" y="893.6" width="2.6" height="2.6"/><rect x="465.1" y="884.2" width="2.6" height="2.6"/><rect x="493.1" y="878.1" width="2.6" height="2.6"/><rect x="476.5" y="870.6" width="2.6" height="2.6"/><rect x="436.4" y="891.2" width="2.6" height="2.6"/><rect x="472.1" y="901.2" width="2.6" height="2.6"/><rect x="455.4" y="894.2" width="2.6" height="2.6"/><rect x="490.9" y="872.1" width="2.6" height="2.6"/><rect x="461.8" y="878.3" width="2.6" height="2.6"/><rect x="457.6" y="887.1" width="2.6" height="2.6"/><rect x="488.3" y="887.0" width="2.6" height="2.6"/><rect x="448.1" y="882.9" width="2.6" height="2.6"/><rect x="485.2" y="884.2" width="2.6" height="2.6"/><rect x="449.7" y="889.0" width="2.6" height="2.6"/><rect x="483.2" y="873.7" width="2.6" height="2.6"/><rect x="444.0" y="892.8" width="2.6" height="2.6"/><rect x="440.8" y="881.9" width="2.6" height="2.6"/><rect x="447.5" y="889.5" width="2.6" height="2.6"/><rect x="453.4" y="880.4" width="2.6" height="2.6"/><rect x="472.9" y="892.1" width="2.6" height="2.6"/><rect x="455.6" y="898.1" width="2.6" height="2.6"/><rect x="454.6" y="893.4" width="2.6" height="2.6"/><rect x="466.5" y="887.7" width="2.6" height="2.6"/><rect x="451.6" y="877.9" width="2.6" height="2.6"/><rect x="468.6" y="885.8" width="2.6" height="2.6"/><rect x="469.0" y="884.9" width="2.6" height="2.6"/><rect x="479.4" y="885.8" width="2.6" height="2.6"/><rect x="474.2" y="887.9" width="2.6" height="2.6"/><rect x="485.5" y="879.8" width="2.6" height="2.6"/><rect x="442.5" y="892.4" width="2.6" height="2.6"/><rect x="479.6" y="879.7" width="2.6" height="2.6"/><rect x="478.4" y="889.2" width="2.6" height="2.6"/><rect x="432.4" y="892.5" width="2.6" height="2.6"/><rect x="478.7" y="892.6" width="2.6" height="2.6"/><rect x="454.9" y="890.0" width="2.6" height="2.6"/><rect x="454.6" y="893.0" width="2.6" height="2.6"/><rect x="515.8" y="880.4" width="2.6" height="2.6"/><rect x="472.1" y="880.1" width="2.6" height="2.6"/><rect x="502.5" y="865.9" width="2.6" height="2.6"/><rect x="510.7" y="883.7" width="2.6" height="2.6"/><rect x="461.9" y="902.6" width="2.6" height="2.6"/><rect x="480.1" y="872.4" width="2.6" height="2.6"/><rect x="501.3" y="878.9" width="2.6" height="2.6"/><rect x="471.2" y="888.2" width="2.6" height="2.6"/><rect x="485.1" y="888.8" width="2.6" height="2.6"/><rect x="470.4" y="890.2" width="2.6" height="2.6"/><rect x="445.8" y="893.1" width="2.6" height="2.6"/><rect x="476.9" y="880.2" width="2.6" height="2.6"/><rect x="462.4" y="885.7" width="2.6" height="2.6"/><rect x="458.2" y="877.6" width="2.6" height="2.6"/><rect x="439.7" y="888.6" width="2.6" height="2.6"/><rect x="472.8" y="879.3" width="2.6" height="2.6"/><rect x="482.6" y="881.1" width="2.6" height="2.6"/><rect x="447.2" y="884.4" width="2.6" height="2.6"/><rect x="477.3" y="884.7" width="2.6" height="2.6"/><rect x="504.1" y="889.0" width="2.6" height="2.6"/><rect x="449.2" y="885.2" width="2.6" height="2.6"/><rect x="480.5" y="886.1" width="2.6" height="2.6"/><rect x="486.2" y="878.8" width="2.6" height="2.6"/><rect x="494.0" y="882.7" width="2.6" height="2.6"/><rect x="457.2" y="894.8" width="2.6" height="2.6"/><rect x="469.6" y="887.2" width="2.6" height="2.6"/><rect x="461.1" y="898.2" width="2.6" height="2.6"/><rect x="467.9" y="879.1" width="2.6" height="2.6"/><rect x="473.0" y="889.3" width="2.6" height="2.6"/><rect x="468.7" y="891.7" width="2.6" height="2.6"/><rect x="446.2" y="883.9" width="2.6" height="2.6"/><rect x="475.2" y="891.1" width="2.6" height="2.6"/><rect x="481.9" y="891.9" width="2.6" height="2.6"/><rect x="491.1" y="887.3" width="2.6" height="2.6"/><rect x="472.9" y="885.8" width="2.6" height="2.6"/><rect x="442.3" y="900.1" width="2.6" height="2.6"/><rect x="513.7" y="886.3" width="2.6" height="2.6"/><rect x="471.7" y="886.3" width="2.6" height="2.6"/><rect x="460.2" y="882.2" width="2.6" height="2.6"/><rect x="465.4" y="884.2" width="2.6" height="2.6"/><rect x="475.2" y="875.4" width="2.6" height="2.6"/><rect x="476.8" y="900.3" width="2.6" height="2.6"/><rect x="491.9" y="886.6" width="2.6" height="2.6"/><rect x="472.0" y="884.6" width="2.6" height="2.6"/><rect x="485.9" y="878.9" width="2.6" height="2.6"/><rect x="467.3" y="869.3" width="2.6" height="2.6"/><rect x="464.9" y="881.5" width="2.6" height="2.6"/><rect x="451.0" y="882.8" width="2.6" height="2.6"/><rect x="469.2" y="878.3" width="2.6" height="2.6"/><rect x="473.1" y="882.1" width="2.6" height="2.6"/><rect x="487.7" y="897.2" width="2.6" height="2.6"/><rect x="469.3" y="867.9" width="2.6" height="2.6"/><rect x="472.2" y="877.0" width="2.6" height="2.6"/><rect x="487.3" y="885.5" width="2.6" height="2.6"/><rect x="479.5" y="879.4" width="2.6" height="2.6"/><rect x="446.0" y="899.5" width="2.6" height="2.6"/><rect x="466.4" y="900.2" width="2.6" height="2.6"/><rect x="466.9" y="883.8" width="2.6" height="2.6"/><rect x="466.3" y="882.3" width="2.6" height="2.6"/><rect x="467.8" y="885.8" width="2.6" height="2.6"/><rect x="467.2" y="882.5" width="2.6" height="2.6"/><rect x="464.9" y="895.7" width="2.6" height="2.6"/><rect x="475.4" y="890.3" width="2.6" height="2.6"/><rect x="443.4" y="899.5" width="2.6" height="2.6"/><rect x="467.4" y="883.6" width="2.6" height="2.6"/><rect x="490.6" y="889.2" width="2.6" height="2.6"/><rect x="455.2" y="885.4" width="2.6" height="2.6"/><rect x="499.9" y="877.2" width="2.6" height="2.6"/><rect x="452.3" y="882.3" width="2.6" height="2.6"/><rect x="463.1" y="894.3" width="2.6" height="2.6"/><rect x="463.5" y="886.2" width="2.6" height="2.6"/><rect x="469.1" y="900.2" width="2.6" height="2.6"/><rect x="493.2" y="891.0" width="2.6" height="2.6"/><rect x="452.7" y="877.8" width="2.6" height="2.6"/><rect x="498.0" y="881.1" width="2.6" height="2.6"/><rect x="480.6" y="894.5" width="2.6" height="2.6"/><rect x="472.7" y="895.0" width="2.6" height="2.6"/><rect x="462.5" y="888.9" width="2.6" height="2.6"/><rect x="470.2" y="891.8" width="2.6" height="2.6"/><rect x="476.4" y="884.3" width="2.6" height="2.6"/><rect x="470.5" y="900.4" width="2.6" height="2.6"/><rect x="476.3" y="892.8" width="2.6" height="2.6"/><rect x="443.6" y="889.9" width="2.6" height="2.6"/><rect x="496.5" y="875.3" width="2.6" height="2.6"/><rect x="484.6" y="889.5" width="2.6" height="2.6"/><rect x="496.0" y="878.8" width="2.6" height="2.6"/><rect x="463.8" y="875.9" width="2.6" height="2.6"/><rect x="480.7" y="891.0" width="2.6" height="2.6"/><rect x="451.7" y="880.5" width="2.6" height="2.6"/><rect x="474.3" y="881.1" width="2.6" height="2.6"/><rect x="467.2" y="891.3" width="2.6" height="2.6"/><rect x="465.0" y="881.0" width="2.6" height="2.6"/><rect x="468.4" y="878.5" width="2.6" height="2.6"/><rect x="475.8" y="879.0" width="2.6" height="2.6"/><rect x="481.1" y="892.8" width="2.6" height="2.6"/><rect x="459.9" y="878.5" width="2.6" height="2.6"/><rect x="495.4" y="876.7" width="2.6" height="2.6"/><rect x="520.0" y="874.2" width="2.6" height="2.6"/><rect x="449.0" y="899.6" width="2.6" height="2.6"/><rect x="472.1" y="882.4" width="2.6" height="2.6"/><rect x="449.6" y="876.1" width="2.6" height="2.6"/><rect x="468.5" y="881.4" width="2.6" height="2.6"/><rect x="454.3" y="894.3" width="2.6" height="2.6"/><rect x="488.7" y="885.4" width="2.6" height="2.6"/><rect x="443.9" y="882.4" width="2.6" height="2.6"/><rect x="473.9" y="873.5" width="2.6" height="2.6"/><rect x="469.2" y="876.2" width="2.6" height="2.6"/><rect x="484.3" y="884.1" width="2.6" height="2.6"/><rect x="466.1" y="889.5" width="2.6" height="2.6"/><rect x="473.6" y="879.4" width="2.6" height="2.6"/><rect x="456.9" y="883.9" width="2.6" height="2.6"/><rect x="465.7" y="888.0" width="2.6" height="2.6"/><rect x="478.7" y="885.1" width="2.6" height="2.6"/><rect x="478.2" y="884.5" width="2.6" height="2.6"/><rect x="491.0" y="886.2" width="2.6" height="2.6"/><rect x="475.7" y="883.5" width="2.6" height="2.6"/><rect x="445.7" y="877.8" width="2.6" height="2.6"/><rect x="469.2" y="883.4" width="2.6" height="2.6"/><rect x="449.1" y="884.5" width="2.6" height="2.6"/><rect x="473.9" y="887.7" width="2.6" height="2.6"/><rect x="474.6" y="902.4" width="2.6" height="2.6"/><rect x="482.3" y="897.2" width="2.6" height="2.6"/><rect x="457.5" y="886.0" width="2.6" height="2.6"/><rect x="464.1" y="883.1" width="2.6" height="2.6"/><rect x="473.6" y="888.7" width="2.6" height="2.6"/><rect x="479.6" y="885.5" width="2.6" height="2.6"/><rect x="467.1" y="900.0" width="2.6" height="2.6"/><rect x="462.5" y="894.6" width="2.6" height="2.6"/><rect x="480.0" y="882.6" width="2.6" height="2.6"/><rect x="481.9" y="887.8" width="2.6" height="2.6"/><rect x="436.8" y="899.2" width="2.6" height="2.6"/><rect x="484.1" y="888.2" width="2.6" height="2.6"/><rect x="465.0" y="891.9" width="2.6" height="2.6"/><rect x="498.7" y="881.7" width="2.6" height="2.6"/><rect x="473.5" y="889.7" width="2.6" height="2.6"/><rect x="461.2" y="890.4" width="2.6" height="2.6"/><rect x="468.2" y="888.2" width="2.6" height="2.6"/></g>
<line x1="431.60" y1="925.70" x2="539.20" y2="879.90" stroke="#E23224" stroke-width="1.5" stroke-linecap="butt"/>
<line x1="431.60" y1="892.40" x2="539.20" y2="879.90" stroke="#4B50BE" stroke-width="1.5" stroke-linecap="butt"/>
<rect x="395.30" y="846.40" width="178.20" height="118.60" fill="none" stroke="#000" stroke-width="1.5" />
<line x1="390.80" y1="965.00" x2="395.30" y2="965.00" stroke="#000" stroke-width="1.5" stroke-linecap="butt"/>
<text x="390.70" y="969.10" font-size="11.3" font-weight="bold" text-anchor="end" fill="#000">0</text>
<line x1="390.80" y1="925.47" x2="395.30" y2="925.47" stroke="#000" stroke-width="1.5" stroke-linecap="butt"/>
<text x="390.70" y="929.57" font-size="11.3" font-weight="bold" text-anchor="end" fill="#000">2</text>
<line x1="390.80" y1="885.93" x2="395.30" y2="885.93" stroke="#000" stroke-width="1.5" stroke-linecap="butt"/>
<text x="390.70" y="890.03" font-size="11.3" font-weight="bold" text-anchor="end" fill="#000">4</text>
<line x1="390.80" y1="846.40" x2="395.30" y2="846.40" stroke="#000" stroke-width="1.5" stroke-linecap="butt"/>
<text x="390.70" y="850.50" font-size="11.3" font-weight="bold" text-anchor="end" fill="#000">6</text>
<line x1="395.30" y1="965.00" x2="395.30" y2="969.50" stroke="#000" stroke-width="1.5" stroke-linecap="butt"/>
<text x="395.30" y="980.30" font-size="11" font-weight="bold" text-anchor="middle" fill="#000">0</text>
<line x1="439.08" y1="965.00" x2="439.08" y2="969.50" stroke="#000" stroke-width="1.5" stroke-linecap="butt"/>
<text x="439.08" y="980.30" font-size="11" font-weight="bold" text-anchor="middle" fill="#000">1</text>
<line x1="482.87" y1="965.00" x2="482.87" y2="969.50" stroke="#000" stroke-width="1.5" stroke-linecap="butt"/>
<text x="482.87" y="980.30" font-size="11" font-weight="bold" text-anchor="middle" fill="#000">2</text>
<line x1="526.65" y1="965.00" x2="526.65" y2="969.50" stroke="#000" stroke-width="1.5" stroke-linecap="butt"/>
<text x="526.65" y="980.30" font-size="11" font-weight="bold" text-anchor="middle" fill="#000">3</text>
<line x1="570.44" y1="965.00" x2="570.44" y2="969.50" stroke="#000" stroke-width="1.5" stroke-linecap="butt"/>
<text x="570.44" y="980.30" font-size="11" font-weight="bold" text-anchor="middle" fill="#000">4</text>
<text x="480.50" y="839.80" font-size="14.1" font-weight="bold" text-anchor="middle" fill="#000">TCGA</text>
<text x="485.30" y="997.60" font-size="12.9" font-weight="bold" text-anchor="middle" fill="#000">NRF1 mRNA expression</text>
<text x="421.30" y="1014.60" font-size="12.9" font-weight="bold" text-anchor="start" fill="#000" textLength="130.5" lengthAdjust="spacingAndGlyphs">(FPKM (log2<tspan font-size="8.5" dy="-5.5">(FPKM+1)</tspan><tspan dy="5.5">))</tspan></text>
<text x="358.60" y="903.50" font-size="12.7" font-weight="bold" text-anchor="middle" fill="#000" transform="rotate(-90 358.60 903.50)">mRNA expression</text>
<text x="377.20" y="966.30" font-size="12.5" font-weight="bold" text-anchor="start" fill="#000" transform="rotate(-90 377.20 966.30)" textLength="126.5" lengthAdjust="spacingAndGlyphs">(FPKM (log2<tspan font-size="8.5" dy="-5.5">(FPKM+1)</tspan><tspan dy="5.5">))</tspan></text>
<line x1="585.10" y1="855.60" x2="598.60" y2="855.60" stroke="#E23224" stroke-width="1.1" stroke-linecap="butt"/>
<circle cx="591.9" cy="855.6" r="1.2" fill="#E23224"/>
<text x="605.90" y="859.40" font-size="11.2" font-weight="bold" text-anchor="start" fill="#000">OGT</text>
<text x="584.60" y="872.80" font-size="11.2" font-weight="normal" text-anchor="start" fill="#000">Pearson r = 0.5781</text>
<text x="584.60" y="885.90" font-size="11.1" font-weight="normal" text-anchor="start" fill="#000"><tspan font-style="italic">P</tspan>-value &lt; 0.0001</text>
<line x1="585.10" y1="897.70" x2="598.60" y2="897.70" stroke="#4B50BE" stroke-width="1.1" stroke-linecap="butt"/>
<rect x="590.7" y="896.5" width="2.4" height="2.4" fill="#4B50BE"/>
<text x="605.90" y="901.70" font-size="11.2" font-weight="bold" text-anchor="start" fill="#000" textLength="28.2" lengthAdjust="spacingAndGlyphs">BAP1</text>
<text x="584.60" y="915.10" font-size="11.2" font-weight="normal" text-anchor="start" fill="#000">Pearson r = 0.1951</text>
<text x="584.60" y="927.90" font-size="11.1" font-weight="normal" text-anchor="start" fill="#000"><tspan font-style="italic">P</tspan>-value = 0.0002</text>
</svg>
</body></html>
